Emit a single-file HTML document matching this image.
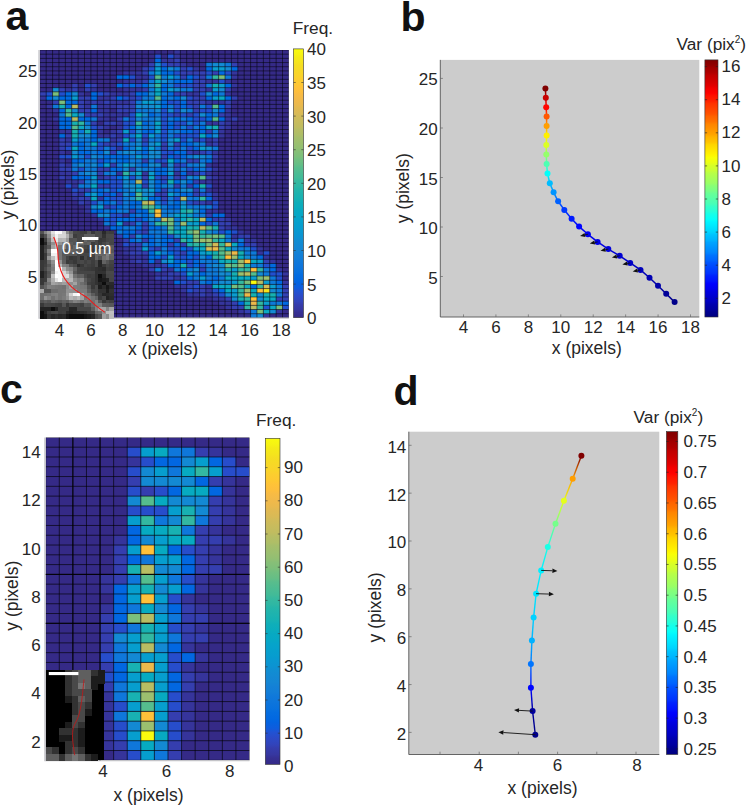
<!DOCTYPE html>
<html><head><meta charset="utf-8"><title>Figure</title>
<style>html,body{margin:0;padding:0;background:#fff;font-family:"Liberation Sans",sans-serif}svg{display:block}</style></head>
<body>
<svg width="746" height="806" viewBox="0 0 746 806" font-family="Liberation Sans, sans-serif">
<defs><filter id="blA" x="0" y="0" width="1" height="1"><feGaussianBlur stdDeviation="0.7"/></filter><filter id="blH" x="-0.02" y="-0.02" width="1.04" height="1.04"><feGaussianBlur stdDeviation="0.3"/></filter><filter id="blC" x="0" y="0" width="1" height="1"><feGaussianBlur stdDeviation="0.55"/></filter></defs><rect width="746" height="806" fill="#fff"/>
<clipPath id="ca"><rect x="39.8" y="50" width="249.1" height="267.9"/></clipPath>
<g clip-path="url(#ca)">
<g filter="url(#blH)">
<rect x="39.8" y="50" width="249.1" height="267.9" fill="#352a87"/>
<path d="M173.93 50h6.39v4.19h-6.39zM173.93 54.19h6.39v4.19h-6.39zM161.16 58.37h12.77v4.19h-12.77zM180.32 62.56h6.39v4.19h-6.39zM193.09 66.74h6.39v4.19h-6.39zM122.83 70.93h19.16v4.19h-19.16zM231.42 70.93h6.39v4.19h-6.39zM135.61 75.12h12.77v4.19h-12.77zM231.42 75.12h6.39v4.19h-6.39zM122.83 79.3h19.16v4.19h-19.16zM205.87 79.3h12.77v4.19h-12.77zM225.03 79.3h6.39v4.19h-6.39zM231.42 83.49h6.39v4.19h-6.39zM65.35 87.67h6.39v4.19h-6.39zM90.9 87.67h6.39v4.19h-6.39zM122.83 87.67h19.16v4.19h-19.16zM205.87 87.67h6.39v4.19h-6.39zM78.12 91.86h6.39v4.19h-6.39zM110.06 91.86h19.16v4.19h-19.16zM186.71 91.86h12.77v4.19h-12.77zM225.03 91.86h6.39v4.19h-6.39zM39.8 96.05h6.39v4.19h-6.39zM97.28 96.05h12.77v4.19h-12.77zM84.51 100.23h6.39v4.19h-6.39zM97.28 100.23h6.39v4.19h-6.39zM110.06 100.23h19.16v4.19h-19.16zM205.87 100.23h19.16v4.19h-19.16zM46.19 104.42h6.39v4.19h-6.39zM84.51 104.42h6.39v4.19h-6.39zM97.28 104.42h19.16v4.19h-19.16zM52.57 108.6h6.39v4.19h-6.39zM97.28 108.6h12.77v4.19h-12.77zM225.03 108.6h6.39v4.19h-6.39zM103.67 112.79h25.55v4.19h-25.55zM225.03 112.79h6.39v4.19h-6.39zM52.57 116.98h6.39v4.19h-6.39zM97.28 116.98h12.77v4.19h-12.77zM225.03 116.98h6.39v4.19h-6.39zM116.45 121.16h6.39v4.19h-6.39zM205.87 121.16h12.77v4.19h-12.77zM225.03 121.16h6.39v4.19h-6.39zM103.67 125.35h6.39v4.19h-6.39zM116.45 125.35h6.39v4.19h-6.39zM225.03 125.35h6.39v4.19h-6.39zM58.96 129.53h12.77v4.19h-12.77zM97.28 129.53h6.39v4.19h-6.39zM110.06 129.53h6.39v4.19h-6.39zM218.64 129.53h6.39v4.19h-6.39zM97.28 133.72h12.77v4.19h-12.77zM116.45 133.72h6.39v4.19h-6.39zM218.64 133.72h6.39v4.19h-6.39zM65.35 137.91h6.39v4.19h-6.39zM110.06 137.91h6.39v4.19h-6.39zM205.87 137.91h6.39v4.19h-6.39zM205.87 142.09h6.39v4.19h-6.39zM116.45 146.28h6.39v4.19h-6.39zM58.96 150.46h6.39v4.19h-6.39zM193.09 150.46h6.39v4.19h-6.39zM212.25 150.46h6.39v4.19h-6.39zM58.96 158.84h6.39v4.19h-6.39zM212.25 158.84h6.39v4.19h-6.39zM65.35 163.02h6.39v4.19h-6.39zM161.16 163.02h6.39v4.19h-6.39zM205.87 163.02h6.39v4.19h-6.39zM212.25 167.21h6.39v4.19h-6.39zM58.96 171.39h12.77v4.19h-12.77zM116.45 171.39h6.39v4.19h-6.39zM141.99 171.39h6.39v4.19h-6.39zM173.93 171.39h6.39v4.19h-6.39zM186.71 171.39h6.39v4.19h-6.39zM205.87 171.39h6.39v4.19h-6.39zM65.35 175.58h6.39v4.19h-6.39zM97.28 175.58h6.39v4.19h-6.39zM212.25 175.58h6.39v4.19h-6.39zM65.35 179.77h12.77v4.19h-12.77zM199.48 179.77h12.77v4.19h-12.77zM71.74 183.95h6.39v4.19h-6.39zM205.87 188.14h6.39v4.19h-6.39zM78.12 192.32h6.39v4.19h-6.39zM212.25 192.32h6.39v4.19h-6.39zM71.74 196.51h6.39v4.19h-6.39zM97.28 196.51h6.39v4.19h-6.39zM212.25 196.51h6.39v4.19h-6.39zM84.51 200.7h6.39v4.19h-6.39zM205.87 200.7h6.39v4.19h-6.39zM84.51 204.88h6.39v4.19h-6.39zM84.51 209.07h6.39v4.19h-6.39zM205.87 209.07h12.77v4.19h-12.77zM90.9 213.25h6.39v4.19h-6.39zM122.83 213.25h6.39v4.19h-6.39zM97.28 217.44h6.39v4.19h-6.39zM225.03 217.44h6.39v4.19h-6.39zM122.83 221.63h6.39v4.19h-6.39zM103.67 225.81h6.39v4.19h-6.39zM225.03 225.81h12.77v4.19h-12.77zM237.8 230h6.39v4.19h-6.39zM231.42 234.18h6.39v4.19h-6.39zM244.19 238.37h12.77v4.19h-12.77zM122.83 246.74h12.77v4.19h-12.77zM256.96 246.74h6.39v4.19h-6.39zM122.83 250.93h6.39v4.19h-6.39zM256.96 250.93h6.39v4.19h-6.39zM129.22 255.11h19.16v4.19h-19.16zM263.35 255.11h6.39v4.19h-6.39zM129.22 259.3h6.39v4.19h-6.39zM141.99 259.3h6.39v4.19h-6.39zM154.77 259.3h6.39v4.19h-6.39zM269.74 259.3h6.39v4.19h-6.39zM141.99 263.49h19.16v4.19h-19.16zM167.54 267.67h6.39v4.19h-6.39zM276.13 267.67h6.39v4.19h-6.39zM154.77 271.86h12.77v4.19h-12.77zM282.51 271.86h6.39v4.19h-6.39zM173.93 276.04h6.39v4.19h-6.39zM282.51 280.23h6.39v4.19h-6.39zM173.93 284.42h12.77v4.19h-12.77zM205.87 284.42h6.39v4.19h-6.39zM180.32 288.6h6.39v4.19h-6.39zM205.87 288.6h6.39v4.19h-6.39zM186.71 292.79h12.77v4.19h-12.77zM205.87 292.79h6.39v4.19h-6.39zM212.25 296.97h12.77v4.19h-12.77zM218.64 301.16h12.77v4.19h-12.77zM225.03 305.35h6.39v4.19h-6.39zM237.8 309.53h6.39v4.19h-6.39zM276.13 309.53h6.39v4.19h-6.39zM263.35 313.72h6.39v4.19h-6.39z" fill="#36359d"/>
<path d="M173.93 58.37h6.39v4.19h-6.39zM148.38 62.56h6.39v4.19h-6.39zM167.54 62.56h12.77v4.19h-12.77zM231.42 62.56h6.39v4.19h-6.39zM141.99 66.74h6.39v4.19h-6.39zM180.32 66.74h6.39v4.19h-6.39zM141.99 70.93h6.39v4.19h-6.39zM180.32 70.93h25.55v4.19h-25.55zM212.25 70.93h6.39v4.19h-6.39zM180.32 75.12h6.39v4.19h-6.39zM199.48 75.12h6.39v4.19h-6.39zM141.99 79.3h6.39v4.19h-6.39zM193.09 79.3h12.77v4.19h-12.77zM71.74 83.49h6.39v4.19h-6.39zM90.9 83.49h6.39v4.19h-6.39zM193.09 83.49h12.77v4.19h-12.77zM58.96 87.67h6.39v4.19h-6.39zM71.74 87.67h6.39v4.19h-6.39zM84.51 87.67h6.39v4.19h-6.39zM141.99 87.67h6.39v4.19h-6.39zM193.09 87.67h12.77v4.19h-12.77zM225.03 87.67h6.39v4.19h-6.39zM39.8 91.86h6.39v4.19h-6.39zM103.67 91.86h6.39v4.19h-6.39zM129.22 91.86h6.39v4.19h-6.39zM173.93 91.86h12.77v4.19h-12.77zM78.12 96.05h12.77v4.19h-12.77zM110.06 96.05h6.39v4.19h-6.39zM129.22 96.05h6.39v4.19h-6.39zM193.09 96.05h12.77v4.19h-12.77zM231.42 96.05h6.39v4.19h-6.39zM52.57 100.23h6.39v4.19h-6.39zM78.12 100.23h6.39v4.19h-6.39zM90.9 100.23h6.39v4.19h-6.39zM103.67 100.23h6.39v4.19h-6.39zM129.22 100.23h6.39v4.19h-6.39zM186.71 100.23h19.16v4.19h-19.16zM225.03 100.23h6.39v4.19h-6.39zM78.12 104.42h6.39v4.19h-6.39zM116.45 104.42h19.16v4.19h-19.16zM193.09 104.42h6.39v4.19h-6.39zM225.03 104.42h6.39v4.19h-6.39zM78.12 108.6h12.77v4.19h-12.77zM116.45 108.6h19.16v4.19h-19.16zM193.09 108.6h6.39v4.19h-6.39zM84.51 112.79h19.16v4.19h-19.16zM173.93 112.79h6.39v4.19h-6.39zM186.71 112.79h6.39v4.19h-6.39zM218.64 112.79h6.39v4.19h-6.39zM116.45 116.98h6.39v4.19h-6.39zM231.42 116.98h6.39v4.19h-6.39zM90.9 121.16h6.39v4.19h-6.39zM103.67 121.16h12.77v4.19h-12.77zM218.64 121.16h6.39v4.19h-6.39zM97.28 125.35h6.39v4.19h-6.39zM218.64 125.35h6.39v4.19h-6.39zM116.45 129.53h6.39v4.19h-6.39zM205.87 129.53h6.39v4.19h-6.39zM65.35 133.72h6.39v4.19h-6.39zM110.06 133.72h6.39v4.19h-6.39zM58.96 137.91h6.39v4.19h-6.39zM116.45 137.91h6.39v4.19h-6.39zM141.99 137.91h6.39v4.19h-6.39zM193.09 137.91h6.39v4.19h-6.39zM212.25 137.91h6.39v4.19h-6.39zM58.96 142.09h12.77v4.19h-12.77zM103.67 142.09h12.77v4.19h-12.77zM161.16 142.09h6.39v4.19h-6.39zM173.93 142.09h6.39v4.19h-6.39zM212.25 142.09h6.39v4.19h-6.39zM58.96 146.28h6.39v4.19h-6.39zM161.16 146.28h6.39v4.19h-6.39zM110.06 150.46h6.39v4.19h-6.39zM186.71 150.46h6.39v4.19h-6.39zM199.48 150.46h6.39v4.19h-6.39zM161.16 154.65h6.39v4.19h-6.39zM212.25 154.65h6.39v4.19h-6.39zM141.99 158.84h6.39v4.19h-6.39zM186.71 158.84h12.77v4.19h-12.77zM58.96 163.02h6.39v4.19h-6.39zM110.06 163.02h6.39v4.19h-6.39zM173.93 163.02h6.39v4.19h-6.39zM58.96 167.21h12.77v4.19h-12.77zM97.28 167.21h12.77v4.19h-12.77zM129.22 167.21h6.39v4.19h-6.39zM71.74 171.39h6.39v4.19h-6.39zM97.28 171.39h6.39v4.19h-6.39zM193.09 171.39h6.39v4.19h-6.39zM58.96 175.58h6.39v4.19h-6.39zM103.67 175.58h6.39v4.19h-6.39zM141.99 175.58h6.39v4.19h-6.39zM161.16 175.58h6.39v4.19h-6.39zM173.93 175.58h6.39v4.19h-6.39zM205.87 175.58h6.39v4.19h-6.39zM78.12 179.77h6.39v4.19h-6.39zM193.09 179.77h6.39v4.19h-6.39zM97.28 183.95h12.77v4.19h-12.77zM141.99 183.95h6.39v4.19h-6.39zM173.93 183.95h6.39v4.19h-6.39zM186.71 183.95h6.39v4.19h-6.39zM78.12 188.14h12.77v4.19h-12.77zM161.16 188.14h6.39v4.19h-6.39zM193.09 188.14h6.39v4.19h-6.39zM71.74 192.32h6.39v4.19h-6.39zM116.45 192.32h6.39v4.19h-6.39zM154.77 192.32h12.77v4.19h-12.77zM193.09 192.32h6.39v4.19h-6.39zM78.12 196.51h12.77v4.19h-12.77zM161.16 196.51h6.39v4.19h-6.39zM78.12 200.7h6.39v4.19h-6.39zM193.09 200.7h12.77v4.19h-12.77zM103.67 204.88h6.39v4.19h-6.39zM129.22 209.07h6.39v4.19h-6.39zM205.87 213.25h6.39v4.19h-6.39zM212.25 217.44h12.77v4.19h-12.77zM129.22 221.63h6.39v4.19h-6.39zM141.99 221.63h6.39v4.19h-6.39zM218.64 221.63h12.77v4.19h-12.77zM141.99 225.81h6.39v4.19h-6.39zM218.64 225.81h6.39v4.19h-6.39zM141.99 230h6.39v4.19h-6.39zM116.45 234.18h6.39v4.19h-6.39zM129.22 234.18h6.39v4.19h-6.39zM237.8 234.18h12.77v4.19h-12.77zM122.83 238.37h6.39v4.19h-6.39zM141.99 238.37h6.39v4.19h-6.39zM173.93 238.37h6.39v4.19h-6.39zM231.42 238.37h6.39v4.19h-6.39zM129.22 242.56h12.77v4.19h-12.77zM167.54 242.56h6.39v4.19h-6.39zM180.32 242.56h6.39v4.19h-6.39zM244.19 242.56h12.77v4.19h-12.77zM135.61 246.74h6.39v4.19h-6.39zM154.77 246.74h6.39v4.19h-6.39zM129.22 250.93h19.16v4.19h-19.16zM180.32 250.93h6.39v4.19h-6.39zM135.61 259.3h6.39v4.19h-6.39zM263.35 259.3h6.39v4.19h-6.39zM161.16 263.49h6.39v4.19h-6.39zM148.38 267.67h6.39v4.19h-6.39zM161.16 267.67h6.39v4.19h-6.39zM199.48 267.67h6.39v4.19h-6.39zM167.54 271.86h12.77v4.19h-12.77zM154.77 276.04h19.16v4.19h-19.16zM180.32 276.04h6.39v4.19h-6.39zM186.71 280.23h12.77v4.19h-12.77zM186.71 284.42h6.39v4.19h-6.39zM199.48 284.42h6.39v4.19h-6.39zM282.51 284.42h6.39v4.19h-6.39zM193.09 288.6h12.77v4.19h-12.77zM282.51 288.6h6.39v4.19h-6.39zM199.48 292.79h6.39v4.19h-6.39zM212.25 292.79h6.39v4.19h-6.39zM282.51 292.79h6.39v4.19h-6.39zM225.03 296.97h6.39v4.19h-6.39zM276.13 296.97h12.77v4.19h-12.77zM231.42 301.16h6.39v4.19h-6.39zM231.42 305.35h12.77v4.19h-12.77zM244.19 309.53h6.39v4.19h-6.39z" fill="#3440b3"/>
<path d="M154.77 54.19h6.39v4.19h-6.39zM167.54 54.19h6.39v4.19h-6.39zM161.16 62.56h6.39v4.19h-6.39zM148.38 66.74h6.39v4.19h-6.39zM186.71 66.74h6.39v4.19h-6.39zM173.93 70.93h6.39v4.19h-6.39zM205.87 70.93h6.39v4.19h-6.39zM225.03 70.93h6.39v4.19h-6.39zM129.22 75.12h6.39v4.19h-6.39zM148.38 75.12h6.39v4.19h-6.39zM193.09 75.12h6.39v4.19h-6.39zM218.64 79.3h6.39v4.19h-6.39zM84.51 83.49h6.39v4.19h-6.39zM122.83 83.49h6.39v4.19h-6.39zM135.61 83.49h6.39v4.19h-6.39zM173.93 83.49h19.16v4.19h-19.16zM46.19 91.86h6.39v4.19h-6.39zM58.96 91.86h6.39v4.19h-6.39zM97.28 91.86h6.39v4.19h-6.39zM199.48 91.86h6.39v4.19h-6.39zM122.83 96.05h6.39v4.19h-6.39zM135.61 96.05h6.39v4.19h-6.39zM186.71 96.05h6.39v4.19h-6.39zM167.54 100.23h12.77v4.19h-12.77zM173.93 104.42h6.39v4.19h-6.39zM186.71 104.42h6.39v4.19h-6.39zM205.87 104.42h6.39v4.19h-6.39zM161.16 108.6h6.39v4.19h-6.39zM173.93 108.6h6.39v4.19h-6.39zM199.48 108.6h12.77v4.19h-12.77zM129.22 112.79h6.39v4.19h-6.39zM161.16 112.79h12.77v4.19h-12.77zM180.32 112.79h6.39v4.19h-6.39zM193.09 112.79h6.39v4.19h-6.39zM129.22 116.98h6.39v4.19h-6.39zM161.16 116.98h6.39v4.19h-6.39zM193.09 116.98h12.77v4.19h-12.77zM122.83 121.16h12.77v4.19h-12.77zM161.16 121.16h6.39v4.19h-6.39zM173.93 121.16h12.77v4.19h-12.77zM193.09 121.16h6.39v4.19h-6.39zM90.9 125.35h6.39v4.19h-6.39zM122.83 125.35h6.39v4.19h-6.39zM161.16 125.35h6.39v4.19h-6.39zM173.93 125.35h6.39v4.19h-6.39zM186.71 125.35h6.39v4.19h-6.39zM129.22 129.53h6.39v4.19h-6.39zM161.16 129.53h6.39v4.19h-6.39zM193.09 129.53h6.39v4.19h-6.39zM122.83 133.72h6.39v4.19h-6.39zM141.99 133.72h6.39v4.19h-6.39zM161.16 133.72h6.39v4.19h-6.39zM173.93 133.72h25.55v4.19h-25.55zM129.22 137.91h6.39v4.19h-6.39zM161.16 137.91h6.39v4.19h-6.39zM180.32 137.91h6.39v4.19h-6.39zM199.48 137.91h6.39v4.19h-6.39zM97.28 142.09h6.39v4.19h-6.39zM116.45 142.09h6.39v4.19h-6.39zM141.99 142.09h6.39v4.19h-6.39zM65.35 146.28h6.39v4.19h-6.39zM97.28 146.28h6.39v4.19h-6.39zM110.06 146.28h6.39v4.19h-6.39zM173.93 146.28h6.39v4.19h-6.39zM186.71 146.28h6.39v4.19h-6.39zM161.16 150.46h12.77v4.19h-12.77zM205.87 150.46h6.39v4.19h-6.39zM58.96 154.65h12.77v4.19h-12.77zM84.51 154.65h6.39v4.19h-6.39zM173.93 154.65h6.39v4.19h-6.39zM97.28 158.84h6.39v4.19h-6.39zM154.77 158.84h12.77v4.19h-12.77zM180.32 163.02h6.39v4.19h-6.39zM78.12 167.21h6.39v4.19h-6.39zM173.93 167.21h6.39v4.19h-6.39zM186.71 167.21h6.39v4.19h-6.39zM205.87 167.21h6.39v4.19h-6.39zM199.48 171.39h6.39v4.19h-6.39zM110.06 175.58h6.39v4.19h-6.39zM129.22 175.58h6.39v4.19h-6.39zM154.77 175.58h6.39v4.19h-6.39zM180.32 175.58h6.39v4.19h-6.39zM110.06 179.77h12.77v4.19h-12.77zM141.99 179.77h6.39v4.19h-6.39zM161.16 179.77h6.39v4.19h-6.39zM65.35 183.95h6.39v4.19h-6.39zM110.06 183.95h12.77v4.19h-12.77zM205.87 183.95h6.39v4.19h-6.39zM71.74 188.14h6.39v4.19h-6.39zM110.06 188.14h6.39v4.19h-6.39zM103.67 192.32h6.39v4.19h-6.39zM199.48 192.32h12.77v4.19h-12.77zM110.06 196.51h12.77v4.19h-12.77zM173.93 196.51h6.39v4.19h-6.39zM90.9 200.7h6.39v4.19h-6.39zM116.45 200.7h6.39v4.19h-6.39zM161.16 200.7h6.39v4.19h-6.39zM186.71 200.7h6.39v4.19h-6.39zM212.25 200.7h6.39v4.19h-6.39zM110.06 204.88h6.39v4.19h-6.39zM212.25 204.88h6.39v4.19h-6.39zM110.06 213.25h12.77v4.19h-12.77zM110.06 217.44h6.39v4.19h-6.39zM135.61 217.44h6.39v4.19h-6.39zM110.06 221.63h6.39v4.19h-6.39zM205.87 221.63h6.39v4.19h-6.39zM135.61 230h6.39v4.19h-6.39zM218.64 230h6.39v4.19h-6.39zM231.42 230h6.39v4.19h-6.39zM167.54 234.18h6.39v4.19h-6.39zM122.83 242.56h6.39v4.19h-6.39zM148.38 246.74h6.39v4.19h-6.39zM167.54 246.74h12.77v4.19h-12.77zM186.71 246.74h6.39v4.19h-6.39zM250.58 246.74h6.39v4.19h-6.39zM173.93 250.93h6.39v4.19h-6.39zM263.35 250.93h6.39v4.19h-6.39zM161.16 255.11h6.39v4.19h-6.39zM173.93 255.11h12.77v4.19h-12.77zM193.09 255.11h6.39v4.19h-6.39zM186.71 259.3h6.39v4.19h-6.39zM186.71 263.49h6.39v4.19h-6.39zM199.48 263.49h6.39v4.19h-6.39zM263.35 263.49h6.39v4.19h-6.39zM180.32 271.86h6.39v4.19h-6.39zM269.74 271.86h12.77v4.19h-12.77zM276.13 276.04h6.39v4.19h-6.39zM180.32 280.23h6.39v4.19h-6.39zM193.09 284.42h6.39v4.19h-6.39zM186.71 288.6h6.39v4.19h-6.39zM212.25 288.6h6.39v4.19h-6.39zM218.64 292.79h6.39v4.19h-6.39zM263.35 305.35h6.39v4.19h-6.39zM282.51 305.35h6.39v4.19h-6.39z" fill="#2450cf"/>
<path d="M154.77 58.37h6.39v4.19h-6.39zM161.16 66.74h6.39v4.19h-6.39zM205.87 66.74h6.39v4.19h-6.39zM231.42 66.74h6.39v4.19h-6.39zM161.16 70.93h12.77v4.19h-12.77zM218.64 70.93h6.39v4.19h-6.39zM116.45 75.12h12.77v4.19h-12.77zM186.71 75.12h6.39v4.19h-6.39zM173.93 79.3h19.16v4.19h-19.16zM116.45 83.49h6.39v4.19h-6.39zM129.22 83.49h6.39v4.19h-6.39zM141.99 83.49h6.39v4.19h-6.39zM161.16 83.49h6.39v4.19h-6.39zM225.03 83.49h6.39v4.19h-6.39zM161.16 87.67h6.39v4.19h-6.39zM65.35 91.86h6.39v4.19h-6.39zM90.9 91.86h6.39v4.19h-6.39zM135.61 91.86h12.77v4.19h-12.77zM167.54 91.86h6.39v4.19h-6.39zM212.25 91.86h6.39v4.19h-6.39zM46.19 96.05h6.39v4.19h-6.39zM58.96 96.05h12.77v4.19h-12.77zM90.9 96.05h6.39v4.19h-6.39zM116.45 96.05h6.39v4.19h-6.39zM161.16 96.05h6.39v4.19h-6.39zM173.93 96.05h6.39v4.19h-6.39zM205.87 96.05h6.39v4.19h-6.39zM225.03 96.05h6.39v4.19h-6.39zM65.35 100.23h12.77v4.19h-12.77zM161.16 100.23h6.39v4.19h-6.39zM180.32 100.23h6.39v4.19h-6.39zM65.35 104.42h6.39v4.19h-6.39zM161.16 104.42h6.39v4.19h-6.39zM180.32 104.42h6.39v4.19h-6.39zM218.64 104.42h6.39v4.19h-6.39zM58.96 108.6h6.39v4.19h-6.39zM90.9 108.6h6.39v4.19h-6.39zM218.64 108.6h6.39v4.19h-6.39zM148.38 112.79h6.39v4.19h-6.39zM205.87 112.79h6.39v4.19h-6.39zM58.96 116.98h12.77v4.19h-12.77zM78.12 116.98h12.77v4.19h-12.77zM173.93 116.98h6.39v4.19h-6.39zM186.71 116.98h6.39v4.19h-6.39zM205.87 116.98h6.39v4.19h-6.39zM218.64 116.98h6.39v4.19h-6.39zM58.96 121.16h12.77v4.19h-12.77zM141.99 121.16h6.39v4.19h-6.39zM167.54 121.16h6.39v4.19h-6.39zM58.96 125.35h12.77v4.19h-12.77zM129.22 125.35h6.39v4.19h-6.39zM167.54 125.35h6.39v4.19h-6.39zM199.48 125.35h6.39v4.19h-6.39zM90.9 129.53h6.39v4.19h-6.39zM141.99 129.53h12.77v4.19h-12.77zM180.32 129.53h12.77v4.19h-12.77zM199.48 129.53h6.39v4.19h-6.39zM58.96 133.72h6.39v4.19h-6.39zM90.9 133.72h6.39v4.19h-6.39zM205.87 133.72h6.39v4.19h-6.39zM90.9 137.91h6.39v4.19h-6.39zM78.12 142.09h6.39v4.19h-6.39zM180.32 142.09h12.77v4.19h-12.77zM78.12 146.28h6.39v4.19h-6.39zM122.83 146.28h6.39v4.19h-6.39zM141.99 146.28h6.39v4.19h-6.39zM193.09 146.28h6.39v4.19h-6.39zM78.12 150.46h12.77v4.19h-12.77zM97.28 150.46h6.39v4.19h-6.39zM141.99 150.46h6.39v4.19h-6.39zM173.93 150.46h12.77v4.19h-12.77zM103.67 154.65h25.55v4.19h-25.55zM167.54 154.65h6.39v4.19h-6.39zM180.32 154.65h6.39v4.19h-6.39zM71.74 158.84h12.77v4.19h-12.77zM103.67 158.84h6.39v4.19h-6.39zM116.45 158.84h12.77v4.19h-12.77zM173.93 158.84h6.39v4.19h-6.39zM205.87 158.84h6.39v4.19h-6.39zM97.28 163.02h6.39v4.19h-6.39zM141.99 163.02h6.39v4.19h-6.39zM110.06 167.21h12.77v4.19h-12.77zM154.77 167.21h12.77v4.19h-12.77zM193.09 167.21h6.39v4.19h-6.39zM154.77 171.39h12.77v4.19h-12.77zM180.32 171.39h6.39v4.19h-6.39zM71.74 175.58h19.16v4.19h-19.16zM116.45 175.58h6.39v4.19h-6.39zM97.28 179.77h12.77v4.19h-12.77zM154.77 179.77h6.39v4.19h-6.39zM173.93 179.77h6.39v4.19h-6.39zM186.71 179.77h6.39v4.19h-6.39zM154.77 183.95h6.39v4.19h-6.39zM193.09 183.95h6.39v4.19h-6.39zM97.28 188.14h6.39v4.19h-6.39zM116.45 188.14h6.39v4.19h-6.39zM154.77 188.14h6.39v4.19h-6.39zM173.93 188.14h6.39v4.19h-6.39zM97.28 192.32h6.39v4.19h-6.39zM110.06 192.32h6.39v4.19h-6.39zM129.22 192.32h6.39v4.19h-6.39zM180.32 192.32h12.77v4.19h-12.77zM103.67 196.51h6.39v4.19h-6.39zM148.38 196.51h12.77v4.19h-12.77zM205.87 196.51h6.39v4.19h-6.39zM103.67 200.7h6.39v4.19h-6.39zM129.22 200.7h12.77v4.19h-12.77zM173.93 200.7h6.39v4.19h-6.39zM116.45 204.88h6.39v4.19h-6.39zM129.22 204.88h6.39v4.19h-6.39zM167.54 204.88h12.77v4.19h-12.77zM90.9 209.07h12.77v4.19h-12.77zM110.06 209.07h6.39v4.19h-6.39zM135.61 209.07h12.77v4.19h-12.77zM199.48 209.07h6.39v4.19h-6.39zM129.22 213.25h6.39v4.19h-6.39zM141.99 213.25h6.39v4.19h-6.39zM212.25 213.25h12.77v4.19h-12.77zM103.67 217.44h6.39v4.19h-6.39zM116.45 217.44h19.16v4.19h-19.16zM141.99 217.44h6.39v4.19h-6.39zM205.87 217.44h6.39v4.19h-6.39zM199.48 221.63h6.39v4.19h-6.39zM110.06 225.81h12.77v4.19h-12.77zM135.61 225.81h6.39v4.19h-6.39zM148.38 225.81h12.77v4.19h-12.77zM122.83 230h12.77v4.19h-12.77zM225.03 230h6.39v4.19h-6.39zM122.83 234.18h6.39v4.19h-6.39zM141.99 234.18h12.77v4.19h-12.77zM161.16 234.18h6.39v4.19h-6.39zM129.22 238.37h6.39v4.19h-6.39zM148.38 238.37h6.39v4.19h-6.39zM161.16 238.37h12.77v4.19h-12.77zM148.38 242.56h6.39v4.19h-6.39zM161.16 242.56h6.39v4.19h-6.39zM173.93 242.56h6.39v4.19h-6.39zM237.8 242.56h6.39v4.19h-6.39zM180.32 246.74h6.39v4.19h-6.39zM148.38 250.93h6.39v4.19h-6.39zM167.54 250.93h6.39v4.19h-6.39zM186.71 250.93h12.77v4.19h-12.77zM148.38 255.11h12.77v4.19h-12.77zM186.71 255.11h6.39v4.19h-6.39zM205.87 255.11h6.39v4.19h-6.39zM256.96 255.11h6.39v4.19h-6.39zM148.38 259.3h6.39v4.19h-6.39zM173.93 259.3h12.77v4.19h-12.77zM193.09 259.3h6.39v4.19h-6.39zM167.54 263.49h12.77v4.19h-12.77zM193.09 263.49h6.39v4.19h-6.39zM269.74 263.49h6.39v4.19h-6.39zM180.32 267.67h6.39v4.19h-6.39zM269.74 267.67h6.39v4.19h-6.39zM199.48 271.86h6.39v4.19h-6.39zM186.71 276.04h6.39v4.19h-6.39zM212.25 276.04h6.39v4.19h-6.39zM173.93 280.23h6.39v4.19h-6.39zM205.87 280.23h6.39v4.19h-6.39zM276.13 280.23h6.39v4.19h-6.39zM250.58 284.42h6.39v4.19h-6.39zM218.64 288.6h6.39v4.19h-6.39zM237.8 301.16h6.39v4.19h-6.39zM282.51 301.16h6.39v4.19h-6.39z" fill="#036ae1"/>
<path d="M205.87 62.56h6.39v4.19h-6.39zM225.03 62.56h6.39v4.19h-6.39zM173.93 66.74h6.39v4.19h-6.39zM148.38 70.93h6.39v4.19h-6.39zM161.16 75.12h6.39v4.19h-6.39zM173.93 75.12h6.39v4.19h-6.39zM205.87 75.12h6.39v4.19h-6.39zM225.03 75.12h6.39v4.19h-6.39zM148.38 79.3h6.39v4.19h-6.39zM167.54 79.3h6.39v4.19h-6.39zM167.54 83.49h6.39v4.19h-6.39zM205.87 83.49h6.39v4.19h-6.39zM148.38 87.67h6.39v4.19h-6.39zM180.32 87.67h12.77v4.19h-12.77zM161.16 91.86h6.39v4.19h-6.39zM218.64 91.86h6.39v4.19h-6.39zM141.99 96.05h12.77v4.19h-12.77zM167.54 96.05h6.39v4.19h-6.39zM135.61 100.23h6.39v4.19h-6.39zM52.57 104.42h6.39v4.19h-6.39zM90.9 104.42h6.39v4.19h-6.39zM167.54 104.42h6.39v4.19h-6.39zM199.48 104.42h6.39v4.19h-6.39zM135.61 108.6h19.16v4.19h-19.16zM186.71 108.6h6.39v4.19h-6.39zM58.96 112.79h6.39v4.19h-6.39zM154.77 112.79h6.39v4.19h-6.39zM212.25 112.79h6.39v4.19h-6.39zM90.9 116.98h6.39v4.19h-6.39zM122.83 116.98h6.39v4.19h-6.39zM141.99 116.98h12.77v4.19h-12.77zM167.54 116.98h6.39v4.19h-6.39zM180.32 116.98h6.39v4.19h-6.39zM84.51 121.16h6.39v4.19h-6.39zM148.38 121.16h6.39v4.19h-6.39zM186.71 121.16h6.39v4.19h-6.39zM199.48 121.16h6.39v4.19h-6.39zM141.99 125.35h12.77v4.19h-12.77zM180.32 125.35h6.39v4.19h-6.39zM193.09 125.35h6.39v4.19h-6.39zM78.12 129.53h6.39v4.19h-6.39zM167.54 129.53h12.77v4.19h-12.77zM212.25 129.53h6.39v4.19h-6.39zM129.22 133.72h6.39v4.19h-6.39zM154.77 133.72h6.39v4.19h-6.39zM167.54 133.72h6.39v4.19h-6.39zM78.12 137.91h12.77v4.19h-12.77zM97.28 137.91h12.77v4.19h-12.77zM148.38 137.91h12.77v4.19h-12.77zM186.71 137.91h6.39v4.19h-6.39zM71.74 142.09h6.39v4.19h-6.39zM84.51 142.09h6.39v4.19h-6.39zM122.83 142.09h12.77v4.19h-12.77zM193.09 142.09h12.77v4.19h-12.77zM84.51 146.28h12.77v4.19h-12.77zM103.67 146.28h6.39v4.19h-6.39zM129.22 146.28h6.39v4.19h-6.39zM154.77 146.28h6.39v4.19h-6.39zM167.54 146.28h6.39v4.19h-6.39zM180.32 146.28h6.39v4.19h-6.39zM212.25 146.28h6.39v4.19h-6.39zM90.9 150.46h6.39v4.19h-6.39zM116.45 150.46h6.39v4.19h-6.39zM135.61 150.46h6.39v4.19h-6.39zM78.12 154.65h6.39v4.19h-6.39zM97.28 154.65h6.39v4.19h-6.39zM129.22 154.65h6.39v4.19h-6.39zM141.99 154.65h6.39v4.19h-6.39zM186.71 154.65h6.39v4.19h-6.39zM205.87 154.65h6.39v4.19h-6.39zM84.51 158.84h12.77v4.19h-12.77zM110.06 158.84h6.39v4.19h-6.39zM129.22 158.84h12.77v4.19h-12.77zM148.38 158.84h6.39v4.19h-6.39zM180.32 158.84h6.39v4.19h-6.39zM199.48 158.84h6.39v4.19h-6.39zM71.74 163.02h6.39v4.19h-6.39zM84.51 163.02h6.39v4.19h-6.39zM116.45 163.02h6.39v4.19h-6.39zM135.61 163.02h6.39v4.19h-6.39zM186.71 163.02h12.77v4.19h-12.77zM71.74 167.21h6.39v4.19h-6.39zM84.51 167.21h12.77v4.19h-12.77zM141.99 167.21h12.77v4.19h-12.77zM180.32 167.21h6.39v4.19h-6.39zM199.48 167.21h6.39v4.19h-6.39zM78.12 171.39h6.39v4.19h-6.39zM103.67 171.39h12.77v4.19h-12.77zM167.54 175.58h6.39v4.19h-6.39zM193.09 175.58h6.39v4.19h-6.39zM84.51 179.77h6.39v4.19h-6.39zM129.22 179.77h6.39v4.19h-6.39zM78.12 183.95h12.77v4.19h-12.77zM161.16 183.95h6.39v4.19h-6.39zM180.32 183.95h6.39v4.19h-6.39zM90.9 188.14h6.39v4.19h-6.39zM103.67 188.14h6.39v4.19h-6.39zM122.83 188.14h6.39v4.19h-6.39zM167.54 188.14h6.39v4.19h-6.39zM199.48 188.14h6.39v4.19h-6.39zM84.51 192.32h6.39v4.19h-6.39zM173.93 192.32h6.39v4.19h-6.39zM122.83 196.51h6.39v4.19h-6.39zM167.54 196.51h6.39v4.19h-6.39zM186.71 196.51h12.77v4.19h-12.77zM97.28 200.7h6.39v4.19h-6.39zM110.06 200.7h6.39v4.19h-6.39zM122.83 200.7h6.39v4.19h-6.39zM154.77 200.7h6.39v4.19h-6.39zM167.54 200.7h6.39v4.19h-6.39zM122.83 204.88h6.39v4.19h-6.39zM135.61 204.88h6.39v4.19h-6.39zM161.16 204.88h6.39v4.19h-6.39zM186.71 204.88h25.55v4.19h-25.55zM103.67 209.07h6.39v4.19h-6.39zM116.45 209.07h12.77v4.19h-12.77zM161.16 209.07h19.16v4.19h-19.16zM135.61 213.25h6.39v4.19h-6.39zM161.16 213.25h6.39v4.19h-6.39zM193.09 213.25h12.77v4.19h-12.77zM154.77 217.44h6.39v4.19h-6.39zM173.93 217.44h6.39v4.19h-6.39zM103.67 221.63h6.39v4.19h-6.39zM135.61 221.63h6.39v4.19h-6.39zM148.38 221.63h6.39v4.19h-6.39zM212.25 221.63h6.39v4.19h-6.39zM122.83 225.81h12.77v4.19h-12.77zM161.16 225.81h6.39v4.19h-6.39zM116.45 230h6.39v4.19h-6.39zM148.38 230h19.16v4.19h-19.16zM212.25 230h6.39v4.19h-6.39zM154.77 234.18h6.39v4.19h-6.39zM225.03 234.18h6.39v4.19h-6.39zM135.61 238.37h6.39v4.19h-6.39zM154.77 238.37h6.39v4.19h-6.39zM225.03 238.37h6.39v4.19h-6.39zM237.8 238.37h6.39v4.19h-6.39zM141.99 242.56h6.39v4.19h-6.39zM154.77 242.56h6.39v4.19h-6.39zM161.16 246.74h6.39v4.19h-6.39zM237.8 246.74h12.77v4.19h-12.77zM161.16 250.93h6.39v4.19h-6.39zM244.19 250.93h12.77v4.19h-12.77zM250.58 255.11h6.39v4.19h-6.39zM199.48 259.3h19.16v4.19h-19.16zM205.87 263.49h6.39v4.19h-6.39zM250.58 263.49h12.77v4.19h-12.77zM154.77 267.67h6.39v4.19h-6.39zM173.93 267.67h6.39v4.19h-6.39zM186.71 267.67h6.39v4.19h-6.39zM205.87 267.67h12.77v4.19h-12.77zM263.35 267.67h6.39v4.19h-6.39zM193.09 271.86h6.39v4.19h-6.39zM205.87 271.86h12.77v4.19h-12.77zM263.35 271.86h6.39v4.19h-6.39zM193.09 276.04h6.39v4.19h-6.39zM205.87 276.04h6.39v4.19h-6.39zM218.64 276.04h6.39v4.19h-6.39zM269.74 276.04h6.39v4.19h-6.39zM199.48 280.23h6.39v4.19h-6.39zM212.25 280.23h6.39v4.19h-6.39zM269.74 280.23h6.39v4.19h-6.39zM276.13 284.42h6.39v4.19h-6.39zM276.13 288.6h6.39v4.19h-6.39zM276.13 292.79h6.39v4.19h-6.39zM269.74 301.16h12.77v4.19h-12.77zM250.58 309.53h6.39v4.19h-6.39zM250.58 313.72h6.39v4.19h-6.39z" fill="#117ada"/>
<path d="M154.77 62.56h6.39v4.19h-6.39zM212.25 62.56h12.77v4.19h-12.77zM167.54 66.74h6.39v4.19h-6.39zM225.03 66.74h6.39v4.19h-6.39zM161.16 79.3h6.39v4.19h-6.39zM148.38 83.49h6.39v4.19h-6.39zM52.57 87.67h6.39v4.19h-6.39zM173.93 87.67h6.39v4.19h-6.39zM218.64 87.67h6.39v4.19h-6.39zM71.74 91.86h6.39v4.19h-6.39zM148.38 91.86h6.39v4.19h-6.39zM205.87 91.86h6.39v4.19h-6.39zM52.57 96.05h6.39v4.19h-6.39zM180.32 96.05h6.39v4.19h-6.39zM154.77 100.23h6.39v4.19h-6.39zM135.61 104.42h19.16v4.19h-19.16zM71.74 108.6h6.39v4.19h-6.39zM154.77 108.6h6.39v4.19h-6.39zM167.54 108.6h6.39v4.19h-6.39zM180.32 108.6h6.39v4.19h-6.39zM212.25 108.6h6.39v4.19h-6.39zM78.12 112.79h6.39v4.19h-6.39zM141.99 112.79h6.39v4.19h-6.39zM199.48 112.79h6.39v4.19h-6.39zM135.61 116.98h6.39v4.19h-6.39zM154.77 116.98h6.39v4.19h-6.39zM84.51 125.35h6.39v4.19h-6.39zM135.61 129.53h6.39v4.19h-6.39zM78.12 133.72h12.77v4.19h-12.77zM212.25 133.72h6.39v4.19h-6.39zM135.61 137.91h6.39v4.19h-6.39zM167.54 137.91h6.39v4.19h-6.39zM135.61 142.09h6.39v4.19h-6.39zM148.38 142.09h6.39v4.19h-6.39zM167.54 142.09h6.39v4.19h-6.39zM205.87 146.28h6.39v4.19h-6.39zM71.74 150.46h6.39v4.19h-6.39zM103.67 150.46h6.39v4.19h-6.39zM122.83 150.46h12.77v4.19h-12.77zM148.38 150.46h12.77v4.19h-12.77zM90.9 154.65h6.39v4.19h-6.39zM148.38 154.65h12.77v4.19h-12.77zM193.09 154.65h12.77v4.19h-12.77zM78.12 163.02h6.39v4.19h-6.39zM90.9 163.02h6.39v4.19h-6.39zM129.22 163.02h6.39v4.19h-6.39zM148.38 163.02h12.77v4.19h-12.77zM167.54 163.02h6.39v4.19h-6.39zM199.48 163.02h6.39v4.19h-6.39zM122.83 167.21h6.39v4.19h-6.39zM135.61 167.21h6.39v4.19h-6.39zM167.54 167.21h6.39v4.19h-6.39zM84.51 171.39h12.77v4.19h-12.77zM129.22 171.39h6.39v4.19h-6.39zM135.61 175.58h6.39v4.19h-6.39zM186.71 175.58h6.39v4.19h-6.39zM90.9 179.77h6.39v4.19h-6.39zM122.83 179.77h6.39v4.19h-6.39zM148.38 179.77h6.39v4.19h-6.39zM180.32 179.77h6.39v4.19h-6.39zM122.83 183.95h12.77v4.19h-12.77zM148.38 183.95h6.39v4.19h-6.39zM167.54 183.95h6.39v4.19h-6.39zM129.22 188.14h6.39v4.19h-6.39zM141.99 188.14h6.39v4.19h-6.39zM180.32 188.14h12.77v4.19h-12.77zM122.83 192.32h6.39v4.19h-6.39zM141.99 192.32h12.77v4.19h-12.77zM129.22 196.51h6.39v4.19h-6.39zM180.32 200.7h6.39v4.19h-6.39zM90.9 204.88h6.39v4.19h-6.39zM193.09 209.07h6.39v4.19h-6.39zM97.28 213.25h12.77v4.19h-12.77zM148.38 213.25h6.39v4.19h-6.39zM167.54 213.25h6.39v4.19h-6.39zM148.38 217.44h6.39v4.19h-6.39zM173.93 221.63h6.39v4.19h-6.39zM173.93 225.81h6.39v4.19h-6.39zM205.87 230h6.39v4.19h-6.39zM135.61 234.18h6.39v4.19h-6.39zM173.93 234.18h6.39v4.19h-6.39zM231.42 246.74h6.39v4.19h-6.39zM199.48 255.11h6.39v4.19h-6.39zM244.19 255.11h6.39v4.19h-6.39zM161.16 259.3h6.39v4.19h-6.39zM212.25 263.49h12.77v4.19h-12.77zM193.09 267.67h6.39v4.19h-6.39zM218.64 267.67h6.39v4.19h-6.39zM218.64 271.86h12.77v4.19h-12.77zM256.96 271.86h6.39v4.19h-6.39zM218.64 280.23h12.77v4.19h-12.77zM269.74 288.6h6.39v4.19h-6.39zM225.03 292.79h6.39v4.19h-6.39zM256.96 292.79h6.39v4.19h-6.39zM231.42 296.97h6.39v4.19h-6.39zM256.96 296.97h6.39v4.19h-6.39zM269.74 309.53h6.39v4.19h-6.39zM256.96 313.72h6.39v4.19h-6.39z" fill="#128bd3"/>
<path d="M154.77 66.74h6.39v4.19h-6.39zM212.25 66.74h12.77v4.19h-12.77zM154.77 70.93h6.39v4.19h-6.39zM167.54 75.12h6.39v4.19h-6.39zM218.64 83.49h6.39v4.19h-6.39zM167.54 87.67h6.39v4.19h-6.39zM212.25 87.67h6.39v4.19h-6.39zM71.74 96.05h6.39v4.19h-6.39zM212.25 96.05h6.39v4.19h-6.39zM141.99 100.23h12.77v4.19h-12.77zM154.77 104.42h6.39v4.19h-6.39zM135.61 125.35h6.39v4.19h-6.39zM154.77 125.35h6.39v4.19h-6.39zM205.87 125.35h6.39v4.19h-6.39zM122.83 129.53h6.39v4.19h-6.39zM154.77 129.53h6.39v4.19h-6.39zM148.38 133.72h6.39v4.19h-6.39zM71.74 137.91h6.39v4.19h-6.39zM173.93 137.91h6.39v4.19h-6.39zM154.77 142.09h6.39v4.19h-6.39zM135.61 146.28h6.39v4.19h-6.39zM148.38 146.28h6.39v4.19h-6.39zM199.48 146.28h6.39v4.19h-6.39zM71.74 154.65h6.39v4.19h-6.39zM135.61 154.65h6.39v4.19h-6.39zM103.67 163.02h6.39v4.19h-6.39zM122.83 163.02h6.39v4.19h-6.39zM148.38 171.39h6.39v4.19h-6.39zM167.54 171.39h6.39v4.19h-6.39zM90.9 175.58h6.39v4.19h-6.39zM122.83 175.58h6.39v4.19h-6.39zM135.61 183.95h6.39v4.19h-6.39zM148.38 188.14h6.39v4.19h-6.39zM90.9 192.32h6.39v4.19h-6.39zM167.54 192.32h6.39v4.19h-6.39zM97.28 204.88h6.39v4.19h-6.39zM154.77 204.88h6.39v4.19h-6.39zM180.32 204.88h6.39v4.19h-6.39zM173.93 213.25h6.39v4.19h-6.39zM186.71 213.25h6.39v4.19h-6.39zM116.45 221.63h6.39v4.19h-6.39zM186.71 221.63h12.77v4.19h-12.77zM141.99 246.74h6.39v4.19h-6.39zM193.09 246.74h6.39v4.19h-6.39zM154.77 250.93h6.39v4.19h-6.39zM199.48 250.93h6.39v4.19h-6.39zM167.54 255.11h6.39v4.19h-6.39zM167.54 259.3h6.39v4.19h-6.39zM256.96 259.3h6.39v4.19h-6.39zM231.42 267.67h6.39v4.19h-6.39zM186.71 271.86h6.39v4.19h-6.39zM199.48 276.04h6.39v4.19h-6.39zM250.58 276.04h6.39v4.19h-6.39zM231.42 280.23h6.39v4.19h-6.39zM263.35 280.23h6.39v4.19h-6.39zM269.74 284.42h6.39v4.19h-6.39zM231.42 288.6h6.39v4.19h-6.39zM231.42 292.79h6.39v4.19h-6.39zM263.35 301.16h6.39v4.19h-6.39z" fill="#079dcf"/>
<path d="M154.77 79.3h6.39v4.19h-6.39zM154.77 87.67h6.39v4.19h-6.39zM154.77 91.86h6.39v4.19h-6.39zM218.64 96.05h6.39v4.19h-6.39zM71.74 112.79h6.39v4.19h-6.39zM135.61 112.79h6.39v4.19h-6.39zM154.77 121.16h6.39v4.19h-6.39zM78.12 125.35h6.39v4.19h-6.39zM135.61 133.72h6.39v4.19h-6.39zM199.48 133.72h6.39v4.19h-6.39zM122.83 137.91h6.39v4.19h-6.39zM90.9 142.09h6.39v4.19h-6.39zM71.74 146.28h6.39v4.19h-6.39zM167.54 158.84h6.39v4.19h-6.39zM135.61 171.39h6.39v4.19h-6.39zM148.38 175.58h6.39v4.19h-6.39zM90.9 183.95h6.39v4.19h-6.39zM135.61 188.14h6.39v4.19h-6.39zM90.9 196.51h6.39v4.19h-6.39zM141.99 196.51h6.39v4.19h-6.39zM180.32 213.25h6.39v4.19h-6.39zM180.32 217.44h6.39v4.19h-6.39zM193.09 217.44h6.39v4.19h-6.39zM180.32 225.81h6.39v4.19h-6.39zM173.93 230h12.77v4.19h-12.77zM180.32 234.18h12.77v4.19h-12.77zM186.71 238.37h6.39v4.19h-6.39zM218.64 238.37h6.39v4.19h-6.39zM231.42 242.56h6.39v4.19h-6.39zM199.48 246.74h6.39v4.19h-6.39zM225.03 246.74h6.39v4.19h-6.39zM205.87 250.93h6.39v4.19h-6.39zM237.8 255.11h6.39v4.19h-6.39zM218.64 259.3h6.39v4.19h-6.39zM250.58 259.3h6.39v4.19h-6.39zM225.03 276.04h25.55v4.19h-25.55zM212.25 284.42h19.16v4.19h-19.16zM244.19 284.42h6.39v4.19h-6.39zM225.03 288.6h6.39v4.19h-6.39zM250.58 288.6h6.39v4.19h-6.39zM263.35 296.97h12.77v4.19h-12.77zM269.74 305.35h6.39v4.19h-6.39zM263.35 309.53h6.39v4.19h-6.39z" fill="#07a9c2"/>
<path d="M212.25 83.49h6.39v4.19h-6.39zM58.96 104.42h6.39v4.19h-6.39zM71.74 121.16h6.39v4.19h-6.39zM212.25 125.35h6.39v4.19h-6.39zM71.74 129.53h6.39v4.19h-6.39zM84.51 129.53h6.39v4.19h-6.39zM71.74 133.72h6.39v4.19h-6.39zM167.54 179.77h6.39v4.19h-6.39zM199.48 183.95h6.39v4.19h-6.39zM180.32 209.07h6.39v4.19h-6.39zM186.71 225.81h12.77v4.19h-12.77zM212.25 225.81h6.39v4.19h-6.39zM199.48 230h6.39v4.19h-6.39zM186.71 242.56h6.39v4.19h-6.39zM199.48 242.56h6.39v4.19h-6.39zM212.25 250.93h6.39v4.19h-6.39zM237.8 250.93h6.39v4.19h-6.39zM225.03 259.3h12.77v4.19h-12.77zM180.32 263.49h6.39v4.19h-6.39zM244.19 263.49h6.39v4.19h-6.39zM225.03 267.67h6.39v4.19h-6.39zM231.42 271.86h6.39v4.19h-6.39zM250.58 292.79h6.39v4.19h-6.39zM263.35 292.79h12.77v4.19h-12.77zM237.8 296.97h6.39v4.19h-6.39zM244.19 301.16h6.39v4.19h-6.39z" fill="#18b1b2"/>
<path d="M212.25 75.12h6.39v4.19h-6.39zM154.77 83.49h6.39v4.19h-6.39zM65.35 108.6h6.39v4.19h-6.39zM78.12 121.16h6.39v4.19h-6.39zM135.61 121.16h6.39v4.19h-6.39zM122.83 171.39h6.39v4.19h-6.39zM135.61 196.51h6.39v4.19h-6.39zM199.48 196.51h6.39v4.19h-6.39zM148.38 209.07h6.39v4.19h-6.39zM186.71 209.07h6.39v4.19h-6.39zM186.71 217.44h6.39v4.19h-6.39zM154.77 221.63h12.77v4.19h-12.77zM167.54 230h6.39v4.19h-6.39zM199.48 234.18h6.39v4.19h-6.39zM180.32 238.37h6.39v4.19h-6.39zM212.25 238.37h6.39v4.19h-6.39zM193.09 242.56h6.39v4.19h-6.39zM218.64 242.56h6.39v4.19h-6.39zM212.25 255.11h12.77v4.19h-12.77zM237.8 267.67h12.77v4.19h-12.77zM256.96 267.67h6.39v4.19h-6.39zM237.8 280.23h6.39v4.19h-6.39zM256.96 284.42h6.39v4.19h-6.39zM237.8 288.6h6.39v4.19h-6.39zM237.8 292.79h6.39v4.19h-6.39zM244.19 296.97h6.39v4.19h-6.39zM256.96 301.16h6.39v4.19h-6.39zM244.19 305.35h6.39v4.19h-6.39zM256.96 305.35h6.39v4.19h-6.39z" fill="#33b8a1"/>
<path d="M154.77 75.12h6.39v4.19h-6.39zM154.77 96.05h6.39v4.19h-6.39zM212.25 104.42h6.39v4.19h-6.39zM65.35 112.79h6.39v4.19h-6.39zM212.25 116.98h6.39v4.19h-6.39zM71.74 125.35h6.39v4.19h-6.39zM199.48 175.58h6.39v4.19h-6.39zM135.61 192.32h6.39v4.19h-6.39zM141.99 204.88h12.77v4.19h-12.77zM167.54 225.81h6.39v4.19h-6.39zM205.87 225.81h6.39v4.19h-6.39zM186.71 230h6.39v4.19h-6.39zM205.87 234.18h6.39v4.19h-6.39zM218.64 234.18h6.39v4.19h-6.39zM218.64 246.74h6.39v4.19h-6.39zM218.64 250.93h6.39v4.19h-6.39zM231.42 263.49h6.39v4.19h-6.39zM250.58 271.86h6.39v4.19h-6.39zM237.8 284.42h6.39v4.19h-6.39z" fill="#55bd8e"/>
<path d="M218.64 75.12h6.39v4.19h-6.39zM52.57 91.86h6.39v4.19h-6.39zM58.96 100.23h6.39v4.19h-6.39zM167.54 217.44h6.39v4.19h-6.39zM167.54 221.63h6.39v4.19h-6.39zM193.09 234.18h6.39v4.19h-6.39zM212.25 234.18h6.39v4.19h-6.39zM193.09 238.37h6.39v4.19h-6.39zM205.87 242.56h6.39v4.19h-6.39zM225.03 263.49h6.39v4.19h-6.39zM256.96 276.04h6.39v4.19h-6.39zM244.19 280.23h6.39v4.19h-6.39zM231.42 284.42h6.39v4.19h-6.39zM276.13 305.35h6.39v4.19h-6.39zM256.96 309.53h6.39v4.19h-6.39z" fill="#7abf7c"/>
<path d="M180.32 221.63h6.39v4.19h-6.39zM193.09 230h6.39v4.19h-6.39zM199.48 238.37h12.77v4.19h-12.77zM225.03 250.93h6.39v4.19h-6.39zM231.42 255.11h6.39v4.19h-6.39zM237.8 259.3h6.39v4.19h-6.39zM237.8 263.49h6.39v4.19h-6.39zM237.8 271.86h6.39v4.19h-6.39zM263.35 276.04h6.39v4.19h-6.39zM244.19 288.6h6.39v4.19h-6.39z" fill="#9bbf6f"/>
<path d="M71.74 104.42h6.39v4.19h-6.39zM71.74 116.98h6.39v4.19h-6.39zM135.61 179.77h6.39v4.19h-6.39zM180.32 196.51h6.39v4.19h-6.39zM141.99 200.7h6.39v4.19h-6.39zM161.16 217.44h6.39v4.19h-6.39zM199.48 217.44h6.39v4.19h-6.39zM199.48 225.81h6.39v4.19h-6.39zM244.19 271.86h6.39v4.19h-6.39zM256.96 280.23h6.39v4.19h-6.39zM250.58 305.35h6.39v4.19h-6.39z" fill="#b8bd63"/>
<path d="M148.38 200.7h6.39v4.19h-6.39zM212.25 242.56h6.39v4.19h-6.39zM225.03 242.56h6.39v4.19h-6.39zM205.87 246.74h6.39v4.19h-6.39zM263.35 284.42h6.39v4.19h-6.39z" fill="#d3bb58"/>
<path d="M212.25 246.74h6.39v4.19h-6.39zM231.42 250.93h6.39v4.19h-6.39zM244.19 292.79h6.39v4.19h-6.39zM250.58 301.16h6.39v4.19h-6.39z" fill="#ecb94c"/>
<path d="M154.77 209.07h6.39v4.19h-6.39zM154.77 213.25h6.39v4.19h-6.39zM225.03 255.11h6.39v4.19h-6.39zM244.19 259.3h6.39v4.19h-6.39zM250.58 267.67h6.39v4.19h-6.39zM256.96 288.6h6.39v4.19h-6.39zM250.58 296.97h6.39v4.19h-6.39z" fill="#fec13a"/>
<path d="M263.35 288.6h6.39v4.19h-6.39z" fill="#f5e31e"/>
<path d="M250.58 280.23h6.39v4.19h-6.39z" fill="#f9fb0e"/>
<path d="M39.8 50V317.9M46.19 50V317.9M52.57 50V317.9M58.96 50V317.9M65.35 50V317.9M71.74 50V317.9M78.12 50V317.9M84.51 50V317.9M90.9 50V317.9M97.28 50V317.9M103.67 50V317.9M110.06 50V317.9M116.45 50V317.9M122.83 50V317.9M129.22 50V317.9M135.61 50V317.9M141.99 50V317.9M148.38 50V317.9M154.77 50V317.9M161.16 50V317.9M167.54 50V317.9M173.93 50V317.9M180.32 50V317.9M186.71 50V317.9M193.09 50V317.9M199.48 50V317.9M205.87 50V317.9M212.25 50V317.9M218.64 50V317.9M225.03 50V317.9M231.42 50V317.9M237.8 50V317.9M244.19 50V317.9M250.58 50V317.9M256.96 50V317.9M263.35 50V317.9M269.74 50V317.9M276.13 50V317.9M282.51 50V317.9M288.9 50V317.9M39.8 50H288.9M39.8 54.19H288.9M39.8 58.37H288.9M39.8 62.56H288.9M39.8 66.74H288.9M39.8 70.93H288.9M39.8 75.12H288.9M39.8 79.3H288.9M39.8 83.49H288.9M39.8 87.67H288.9M39.8 91.86H288.9M39.8 96.05H288.9M39.8 100.23H288.9M39.8 104.42H288.9M39.8 108.6H288.9M39.8 112.79H288.9M39.8 116.98H288.9M39.8 121.16H288.9M39.8 125.35H288.9M39.8 129.53H288.9M39.8 133.72H288.9M39.8 137.91H288.9M39.8 142.09H288.9M39.8 146.28H288.9M39.8 150.46H288.9M39.8 154.65H288.9M39.8 158.84H288.9M39.8 163.02H288.9M39.8 167.21H288.9M39.8 171.39H288.9M39.8 175.58H288.9M39.8 179.77H288.9M39.8 183.95H288.9M39.8 188.14H288.9M39.8 192.32H288.9M39.8 196.51H288.9M39.8 200.7H288.9M39.8 204.88H288.9M39.8 209.07H288.9M39.8 213.25H288.9M39.8 217.44H288.9M39.8 221.63H288.9M39.8 225.81H288.9M39.8 230H288.9M39.8 234.18H288.9M39.8 238.37H288.9M39.8 242.56H288.9M39.8 246.74H288.9M39.8 250.93H288.9M39.8 255.11H288.9M39.8 259.3H288.9M39.8 263.49H288.9M39.8 267.67H288.9M39.8 271.86H288.9M39.8 276.04H288.9M39.8 280.23H288.9M39.8 284.42H288.9M39.8 288.6H288.9M39.8 292.79H288.9M39.8 296.97H288.9M39.8 301.16H288.9M39.8 305.35H288.9M39.8 309.53H288.9M39.8 313.72H288.9M39.8 317.9H288.9" stroke="#000" stroke-width="0.6" stroke-opacity="0.85" fill="none"/>
</g>
</g>
<path d="M39 50V318.2H288.9" stroke="#c4c4c8" stroke-width="1.3" fill="none"/>
<g filter="url(#blA)" shape-rendering="crispEdges"><rect x="40" y="230.8" width="73" height="87.2" fill="#444"/>
<rect x="40" y="230.8" width="4.25" height="4.23" fill="#525252"/>
<rect x="43.65" y="230.8" width="4.25" height="4.23" fill="#838383"/>
<rect x="47.3" y="230.8" width="4.25" height="4.23" fill="#9f9f9f"/>
<rect x="50.95" y="230.8" width="4.25" height="4.23" fill="#dfdfdf"/>
<rect x="54.6" y="230.8" width="4.25" height="4.23" fill="#ffffff"/>
<rect x="58.25" y="230.8" width="4.25" height="4.23" fill="#fafafa"/>
<rect x="61.9" y="230.8" width="4.25" height="4.23" fill="#d2d2d2"/>
<rect x="65.55" y="230.8" width="4.25" height="4.23" fill="#8c8c8c"/>
<rect x="69.2" y="230.8" width="4.25" height="4.23" fill="#666666"/>
<rect x="72.85" y="230.8" width="4.25" height="4.23" fill="#474747"/>
<rect x="76.5" y="230.8" width="4.25" height="4.23" fill="#444444"/>
<rect x="80.15" y="230.8" width="4.25" height="4.23" fill="#414141"/>
<rect x="83.8" y="230.8" width="4.25" height="4.23" fill="#3e3e3e"/>
<rect x="87.45" y="230.8" width="4.25" height="4.23" fill="#555555"/>
<rect x="91.1" y="230.8" width="4.25" height="4.23" fill="#383838"/>
<rect x="94.75" y="230.8" width="4.25" height="4.23" fill="#4a4a4a"/>
<rect x="98.4" y="230.8" width="4.25" height="4.23" fill="#474747"/>
<rect x="102.05" y="230.8" width="4.25" height="4.23" fill="#2c2c2c"/>
<rect x="105.7" y="230.8" width="4.25" height="4.23" fill="#414141"/>
<rect x="109.35" y="230.8" width="4.25" height="4.23" fill="#3e3e3e"/>
<rect x="40" y="234.43" width="4.25" height="4.23" fill="#383838"/>
<rect x="43.65" y="234.43" width="4.25" height="4.23" fill="#525252"/>
<rect x="47.3" y="234.43" width="4.25" height="4.23" fill="#8c8c8c"/>
<rect x="50.95" y="234.43" width="4.25" height="4.23" fill="#cecece"/>
<rect x="54.6" y="234.43" width="4.25" height="4.23" fill="#f1f1f1"/>
<rect x="58.25" y="234.43" width="4.25" height="4.23" fill="#d6d6d6"/>
<rect x="61.9" y="234.43" width="4.25" height="4.23" fill="#d6d6d6"/>
<rect x="65.55" y="234.43" width="4.25" height="4.23" fill="#b4b4b4"/>
<rect x="69.2" y="234.43" width="4.25" height="4.23" fill="#757575"/>
<rect x="72.85" y="234.43" width="4.25" height="4.23" fill="#3e3e3e"/>
<rect x="76.5" y="234.43" width="4.25" height="4.23" fill="#444444"/>
<rect x="80.15" y="234.43" width="4.25" height="4.23" fill="#444444"/>
<rect x="83.8" y="234.43" width="4.25" height="4.23" fill="#5f5f5f"/>
<rect x="87.45" y="234.43" width="4.25" height="4.23" fill="#5f5f5f"/>
<rect x="91.1" y="234.43" width="4.25" height="4.23" fill="#5f5f5f"/>
<rect x="94.75" y="234.43" width="4.25" height="4.23" fill="#4a4a4a"/>
<rect x="98.4" y="234.43" width="4.25" height="4.23" fill="#4a4a4a"/>
<rect x="102.05" y="234.43" width="4.25" height="4.23" fill="#323232"/>
<rect x="105.7" y="234.43" width="4.25" height="4.23" fill="#4a4a4a"/>
<rect x="109.35" y="234.43" width="4.25" height="4.23" fill="#4a4a4a"/>
<rect x="40" y="238.07" width="4.25" height="4.23" fill="#101010"/>
<rect x="43.65" y="238.07" width="4.25" height="4.23" fill="#3b3b3b"/>
<rect x="47.3" y="238.07" width="4.25" height="4.23" fill="#757575"/>
<rect x="50.95" y="238.07" width="4.25" height="4.23" fill="#c0c0c0"/>
<rect x="54.6" y="238.07" width="4.25" height="4.23" fill="#e7e7e7"/>
<rect x="58.25" y="238.07" width="4.25" height="4.23" fill="#b4b4b4"/>
<rect x="61.9" y="238.07" width="4.25" height="4.23" fill="#b8b8b8"/>
<rect x="65.55" y="238.07" width="4.25" height="4.23" fill="#9b9b9b"/>
<rect x="69.2" y="238.07" width="4.25" height="4.23" fill="#525252"/>
<rect x="72.85" y="238.07" width="4.25" height="4.23" fill="#555555"/>
<rect x="76.5" y="238.07" width="4.25" height="4.23" fill="#444444"/>
<rect x="80.15" y="238.07" width="4.25" height="4.23" fill="#474747"/>
<rect x="83.8" y="238.07" width="4.25" height="4.23" fill="#666666"/>
<rect x="87.45" y="238.07" width="4.25" height="4.23" fill="#585858"/>
<rect x="91.1" y="238.07" width="4.25" height="4.23" fill="#5b5b5b"/>
<rect x="94.75" y="238.07" width="4.25" height="4.23" fill="#4a4a4a"/>
<rect x="98.4" y="238.07" width="4.25" height="4.23" fill="#383838"/>
<rect x="102.05" y="238.07" width="4.25" height="4.23" fill="#3b3b3b"/>
<rect x="105.7" y="238.07" width="4.25" height="4.23" fill="#444444"/>
<rect x="109.35" y="238.07" width="4.25" height="4.23" fill="#474747"/>
<rect x="40" y="241.7" width="4.25" height="4.23" fill="#101010"/>
<rect x="43.65" y="241.7" width="4.25" height="4.23" fill="#272727"/>
<rect x="47.3" y="241.7" width="4.25" height="4.23" fill="#666666"/>
<rect x="50.95" y="241.7" width="4.25" height="4.23" fill="#909090"/>
<rect x="54.6" y="241.7" width="4.25" height="4.23" fill="#c0c0c0"/>
<rect x="58.25" y="241.7" width="4.25" height="4.23" fill="#939393"/>
<rect x="61.9" y="241.7" width="4.25" height="4.23" fill="#7c7c7c"/>
<rect x="65.55" y="241.7" width="4.25" height="4.23" fill="#717171"/>
<rect x="69.2" y="241.7" width="4.25" height="4.23" fill="#5b5b5b"/>
<rect x="72.85" y="241.7" width="4.25" height="4.23" fill="#525252"/>
<rect x="76.5" y="241.7" width="4.25" height="4.23" fill="#5f5f5f"/>
<rect x="80.15" y="241.7" width="4.25" height="4.23" fill="#666666"/>
<rect x="83.8" y="241.7" width="4.25" height="4.23" fill="#5b5b5b"/>
<rect x="87.45" y="241.7" width="4.25" height="4.23" fill="#626262"/>
<rect x="91.1" y="241.7" width="4.25" height="4.23" fill="#3e3e3e"/>
<rect x="94.75" y="241.7" width="4.25" height="4.23" fill="#4a4a4a"/>
<rect x="98.4" y="241.7" width="4.25" height="4.23" fill="#3b3b3b"/>
<rect x="102.05" y="241.7" width="4.25" height="4.23" fill="#474747"/>
<rect x="105.7" y="241.7" width="4.25" height="4.23" fill="#525252"/>
<rect x="109.35" y="241.7" width="4.25" height="4.23" fill="#444444"/>
<rect x="40" y="245.33" width="4.25" height="4.23" fill="#222222"/>
<rect x="43.65" y="245.33" width="4.25" height="4.23" fill="#414141"/>
<rect x="47.3" y="245.33" width="4.25" height="4.23" fill="#555555"/>
<rect x="50.95" y="245.33" width="4.25" height="4.23" fill="#a3a3a3"/>
<rect x="54.6" y="245.33" width="4.25" height="4.23" fill="#bcbcbc"/>
<rect x="58.25" y="245.33" width="4.25" height="4.23" fill="#757575"/>
<rect x="61.9" y="245.33" width="4.25" height="4.23" fill="#808080"/>
<rect x="65.55" y="245.33" width="4.25" height="4.23" fill="#5b5b5b"/>
<rect x="69.2" y="245.33" width="4.25" height="4.23" fill="#555555"/>
<rect x="72.85" y="245.33" width="4.25" height="4.23" fill="#666666"/>
<rect x="76.5" y="245.33" width="4.25" height="4.23" fill="#5f5f5f"/>
<rect x="80.15" y="245.33" width="4.25" height="4.23" fill="#525252"/>
<rect x="83.8" y="245.33" width="4.25" height="4.23" fill="#474747"/>
<rect x="87.45" y="245.33" width="4.25" height="4.23" fill="#414141"/>
<rect x="91.1" y="245.33" width="4.25" height="4.23" fill="#3b3b3b"/>
<rect x="94.75" y="245.33" width="4.25" height="4.23" fill="#4a4a4a"/>
<rect x="98.4" y="245.33" width="4.25" height="4.23" fill="#3e3e3e"/>
<rect x="102.05" y="245.33" width="4.25" height="4.23" fill="#383838"/>
<rect x="105.7" y="245.33" width="4.25" height="4.23" fill="#626262"/>
<rect x="109.35" y="245.33" width="4.25" height="4.23" fill="#5b5b5b"/>
<rect x="40" y="248.97" width="4.25" height="4.23" fill="#222222"/>
<rect x="43.65" y="248.97" width="4.25" height="4.23" fill="#4a4a4a"/>
<rect x="47.3" y="248.97" width="4.25" height="4.23" fill="#808080"/>
<rect x="50.95" y="248.97" width="4.25" height="4.23" fill="#ffffff"/>
<rect x="54.6" y="248.97" width="4.25" height="4.23" fill="#ffffff"/>
<rect x="58.25" y="248.97" width="4.25" height="4.23" fill="#757575"/>
<rect x="61.9" y="248.97" width="4.25" height="4.23" fill="#555555"/>
<rect x="65.55" y="248.97" width="4.25" height="4.23" fill="#525252"/>
<rect x="69.2" y="248.97" width="4.25" height="4.23" fill="#666666"/>
<rect x="72.85" y="248.97" width="4.25" height="4.23" fill="#626262"/>
<rect x="76.5" y="248.97" width="4.25" height="4.23" fill="#5f5f5f"/>
<rect x="80.15" y="248.97" width="4.25" height="4.23" fill="#5b5b5b"/>
<rect x="83.8" y="248.97" width="4.25" height="4.23" fill="#3e3e3e"/>
<rect x="87.45" y="248.97" width="4.25" height="4.23" fill="#3b3b3b"/>
<rect x="91.1" y="248.97" width="4.25" height="4.23" fill="#383838"/>
<rect x="94.75" y="248.97" width="4.25" height="4.23" fill="#4a4a4a"/>
<rect x="98.4" y="248.97" width="4.25" height="4.23" fill="#626262"/>
<rect x="102.05" y="248.97" width="4.25" height="4.23" fill="#5f5f5f"/>
<rect x="105.7" y="248.97" width="4.25" height="4.23" fill="#5b5b5b"/>
<rect x="109.35" y="248.97" width="4.25" height="4.23" fill="#585858"/>
<rect x="40" y="252.6" width="4.25" height="4.23" fill="#222222"/>
<rect x="43.65" y="252.6" width="4.25" height="4.23" fill="#383838"/>
<rect x="47.3" y="252.6" width="4.25" height="4.23" fill="#6e6e6e"/>
<rect x="50.95" y="252.6" width="4.25" height="4.23" fill="#f1f1f1"/>
<rect x="54.6" y="252.6" width="4.25" height="4.23" fill="#f1f1f1"/>
<rect x="58.25" y="252.6" width="4.25" height="4.23" fill="#757575"/>
<rect x="61.9" y="252.6" width="4.25" height="4.23" fill="#585858"/>
<rect x="65.55" y="252.6" width="4.25" height="4.23" fill="#585858"/>
<rect x="69.2" y="252.6" width="4.25" height="4.23" fill="#585858"/>
<rect x="72.85" y="252.6" width="4.25" height="4.23" fill="#585858"/>
<rect x="76.5" y="252.6" width="4.25" height="4.23" fill="#444444"/>
<rect x="80.15" y="252.6" width="4.25" height="4.23" fill="#444444"/>
<rect x="83.8" y="252.6" width="4.25" height="4.23" fill="#444444"/>
<rect x="87.45" y="252.6" width="4.25" height="4.23" fill="#444444"/>
<rect x="91.1" y="252.6" width="4.25" height="4.23" fill="#444444"/>
<rect x="94.75" y="252.6" width="4.25" height="4.23" fill="#666666"/>
<rect x="98.4" y="252.6" width="4.25" height="4.23" fill="#666666"/>
<rect x="102.05" y="252.6" width="4.25" height="4.23" fill="#666666"/>
<rect x="105.7" y="252.6" width="4.25" height="4.23" fill="#838383"/>
<rect x="109.35" y="252.6" width="4.25" height="4.23" fill="#666666"/>
<rect x="40" y="256.23" width="4.25" height="4.23" fill="#222222"/>
<rect x="43.65" y="256.23" width="4.25" height="4.23" fill="#3b3b3b"/>
<rect x="47.3" y="256.23" width="4.25" height="4.23" fill="#939393"/>
<rect x="50.95" y="256.23" width="4.25" height="4.23" fill="#c0c0c0"/>
<rect x="54.6" y="256.23" width="4.25" height="4.23" fill="#e7e7e7"/>
<rect x="58.25" y="256.23" width="4.25" height="4.23" fill="#757575"/>
<rect x="61.9" y="256.23" width="4.25" height="4.23" fill="#5b5b5b"/>
<rect x="65.55" y="256.23" width="4.25" height="4.23" fill="#444444"/>
<rect x="69.2" y="256.23" width="4.25" height="4.23" fill="#383838"/>
<rect x="72.85" y="256.23" width="4.25" height="4.23" fill="#3b3b3b"/>
<rect x="76.5" y="256.23" width="4.25" height="4.23" fill="#444444"/>
<rect x="80.15" y="256.23" width="4.25" height="4.23" fill="#2f2f2f"/>
<rect x="83.8" y="256.23" width="4.25" height="4.23" fill="#4a4a4a"/>
<rect x="87.45" y="256.23" width="4.25" height="4.23" fill="#3e3e3e"/>
<rect x="91.1" y="256.23" width="4.25" height="4.23" fill="#414141"/>
<rect x="94.75" y="256.23" width="4.25" height="4.23" fill="#666666"/>
<rect x="98.4" y="256.23" width="4.25" height="4.23" fill="#525252"/>
<rect x="102.05" y="256.23" width="4.25" height="4.23" fill="#717171"/>
<rect x="105.7" y="256.23" width="4.25" height="4.23" fill="#7c7c7c"/>
<rect x="109.35" y="256.23" width="4.25" height="4.23" fill="#626262"/>
<rect x="40" y="259.87" width="4.25" height="4.23" fill="#383838"/>
<rect x="43.65" y="259.87" width="4.25" height="4.23" fill="#3e3e3e"/>
<rect x="47.3" y="259.87" width="4.25" height="4.23" fill="#666666"/>
<rect x="50.95" y="259.87" width="4.25" height="4.23" fill="#909090"/>
<rect x="54.6" y="259.87" width="4.25" height="4.23" fill="#ffffff"/>
<rect x="58.25" y="259.87" width="4.25" height="4.23" fill="#939393"/>
<rect x="61.9" y="259.87" width="4.25" height="4.23" fill="#5f5f5f"/>
<rect x="65.55" y="259.87" width="4.25" height="4.23" fill="#3b3b3b"/>
<rect x="69.2" y="259.87" width="4.25" height="4.23" fill="#414141"/>
<rect x="72.85" y="259.87" width="4.25" height="4.23" fill="#383838"/>
<rect x="76.5" y="259.87" width="4.25" height="4.23" fill="#444444"/>
<rect x="80.15" y="259.87" width="4.25" height="4.23" fill="#4a4a4a"/>
<rect x="83.8" y="259.87" width="4.25" height="4.23" fill="#414141"/>
<rect x="87.45" y="259.87" width="4.25" height="4.23" fill="#474747"/>
<rect x="91.1" y="259.87" width="4.25" height="4.23" fill="#3e3e3e"/>
<rect x="94.75" y="259.87" width="4.25" height="4.23" fill="#4a4a4a"/>
<rect x="98.4" y="259.87" width="4.25" height="4.23" fill="#252525"/>
<rect x="102.05" y="259.87" width="4.25" height="4.23" fill="#626262"/>
<rect x="105.7" y="259.87" width="4.25" height="4.23" fill="#525252"/>
<rect x="109.35" y="259.87" width="4.25" height="4.23" fill="#444444"/>
<rect x="40" y="263.5" width="4.25" height="4.23" fill="#383838"/>
<rect x="43.65" y="263.5" width="4.25" height="4.23" fill="#414141"/>
<rect x="47.3" y="263.5" width="4.25" height="4.23" fill="#555555"/>
<rect x="50.95" y="263.5" width="4.25" height="4.23" fill="#838383"/>
<rect x="54.6" y="263.5" width="4.25" height="4.23" fill="#ffffff"/>
<rect x="58.25" y="263.5" width="4.25" height="4.23" fill="#b4b4b4"/>
<rect x="61.9" y="263.5" width="4.25" height="4.23" fill="#808080"/>
<rect x="65.55" y="263.5" width="4.25" height="4.23" fill="#787878"/>
<rect x="69.2" y="263.5" width="4.25" height="4.23" fill="#555555"/>
<rect x="72.85" y="263.5" width="4.25" height="4.23" fill="#4a4a4a"/>
<rect x="76.5" y="263.5" width="4.25" height="4.23" fill="#2c2c2c"/>
<rect x="80.15" y="263.5" width="4.25" height="4.23" fill="#383838"/>
<rect x="83.8" y="263.5" width="4.25" height="4.23" fill="#474747"/>
<rect x="87.45" y="263.5" width="4.25" height="4.23" fill="#414141"/>
<rect x="91.1" y="263.5" width="4.25" height="4.23" fill="#3b3b3b"/>
<rect x="94.75" y="263.5" width="4.25" height="4.23" fill="#4a4a4a"/>
<rect x="98.4" y="263.5" width="4.25" height="4.23" fill="#272727"/>
<rect x="102.05" y="263.5" width="4.25" height="4.23" fill="#383838"/>
<rect x="105.7" y="263.5" width="4.25" height="4.23" fill="#474747"/>
<rect x="109.35" y="263.5" width="4.25" height="4.23" fill="#414141"/>
<rect x="40" y="267.13" width="4.25" height="4.23" fill="#383838"/>
<rect x="43.65" y="267.13" width="4.25" height="4.23" fill="#4a4a4a"/>
<rect x="47.3" y="267.13" width="4.25" height="4.23" fill="#626262"/>
<rect x="50.95" y="267.13" width="4.25" height="4.23" fill="#7c7c7c"/>
<rect x="54.6" y="267.13" width="4.25" height="4.23" fill="#ffffff"/>
<rect x="58.25" y="267.13" width="4.25" height="4.23" fill="#fafafa"/>
<rect x="61.9" y="267.13" width="4.25" height="4.23" fill="#b0b0b0"/>
<rect x="65.55" y="267.13" width="4.25" height="4.23" fill="#8c8c8c"/>
<rect x="69.2" y="267.13" width="4.25" height="4.23" fill="#838383"/>
<rect x="72.85" y="267.13" width="4.25" height="4.23" fill="#626262"/>
<rect x="76.5" y="267.13" width="4.25" height="4.23" fill="#444444"/>
<rect x="80.15" y="267.13" width="4.25" height="4.23" fill="#414141"/>
<rect x="83.8" y="267.13" width="4.25" height="4.23" fill="#3e3e3e"/>
<rect x="87.45" y="267.13" width="4.25" height="4.23" fill="#3b3b3b"/>
<rect x="91.1" y="267.13" width="4.25" height="4.23" fill="#383838"/>
<rect x="94.75" y="267.13" width="4.25" height="4.23" fill="#323232"/>
<rect x="98.4" y="267.13" width="4.25" height="4.23" fill="#2f2f2f"/>
<rect x="102.05" y="267.13" width="4.25" height="4.23" fill="#2c2c2c"/>
<rect x="105.7" y="267.13" width="4.25" height="4.23" fill="#414141"/>
<rect x="109.35" y="267.13" width="4.25" height="4.23" fill="#3e3e3e"/>
<rect x="40" y="270.77" width="4.25" height="4.23" fill="#222222"/>
<rect x="43.65" y="270.77" width="4.25" height="4.23" fill="#383838"/>
<rect x="47.3" y="270.77" width="4.25" height="4.23" fill="#525252"/>
<rect x="50.95" y="270.77" width="4.25" height="4.23" fill="#8c8c8c"/>
<rect x="54.6" y="270.77" width="4.25" height="4.23" fill="#f1f1f1"/>
<rect x="58.25" y="270.77" width="4.25" height="4.23" fill="#fafafa"/>
<rect x="61.9" y="270.77" width="4.25" height="4.23" fill="#d6d6d6"/>
<rect x="65.55" y="270.77" width="4.25" height="4.23" fill="#b4b4b4"/>
<rect x="69.2" y="270.77" width="4.25" height="4.23" fill="#939393"/>
<rect x="72.85" y="270.77" width="4.25" height="4.23" fill="#585858"/>
<rect x="76.5" y="270.77" width="4.25" height="4.23" fill="#444444"/>
<rect x="80.15" y="270.77" width="4.25" height="4.23" fill="#444444"/>
<rect x="83.8" y="270.77" width="4.25" height="4.23" fill="#444444"/>
<rect x="87.45" y="270.77" width="4.25" height="4.23" fill="#444444"/>
<rect x="91.1" y="270.77" width="4.25" height="4.23" fill="#444444"/>
<rect x="94.75" y="270.77" width="4.25" height="4.23" fill="#323232"/>
<rect x="98.4" y="270.77" width="4.25" height="4.23" fill="#323232"/>
<rect x="102.05" y="270.77" width="4.25" height="4.23" fill="#323232"/>
<rect x="105.7" y="270.77" width="4.25" height="4.23" fill="#4a4a4a"/>
<rect x="109.35" y="270.77" width="4.25" height="4.23" fill="#4a4a4a"/>
<rect x="40" y="274.4" width="4.25" height="4.23" fill="#222222"/>
<rect x="43.65" y="274.4" width="4.25" height="4.23" fill="#3b3b3b"/>
<rect x="47.3" y="274.4" width="4.25" height="4.23" fill="#585858"/>
<rect x="50.95" y="274.4" width="4.25" height="4.23" fill="#c0c0c0"/>
<rect x="54.6" y="274.4" width="4.25" height="4.23" fill="#ffffff"/>
<rect x="58.25" y="274.4" width="4.25" height="4.23" fill="#fafafa"/>
<rect x="61.9" y="274.4" width="4.25" height="4.23" fill="#dadada"/>
<rect x="65.55" y="274.4" width="4.25" height="4.23" fill="#dfdfdf"/>
<rect x="69.2" y="274.4" width="4.25" height="4.23" fill="#acacac"/>
<rect x="72.85" y="274.4" width="4.25" height="4.23" fill="#717171"/>
<rect x="76.5" y="274.4" width="4.25" height="4.23" fill="#5f5f5f"/>
<rect x="80.15" y="274.4" width="4.25" height="4.23" fill="#626262"/>
<rect x="83.8" y="274.4" width="4.25" height="4.23" fill="#4a4a4a"/>
<rect x="87.45" y="274.4" width="4.25" height="4.23" fill="#3e3e3e"/>
<rect x="91.1" y="274.4" width="4.25" height="4.23" fill="#414141"/>
<rect x="94.75" y="274.4" width="4.25" height="4.23" fill="#323232"/>
<rect x="98.4" y="274.4" width="4.25" height="4.23" fill="#101010"/>
<rect x="102.05" y="274.4" width="4.25" height="4.23" fill="#252525"/>
<rect x="105.7" y="274.4" width="4.25" height="4.23" fill="#444444"/>
<rect x="109.35" y="274.4" width="4.25" height="4.23" fill="#474747"/>
<rect x="40" y="278.03" width="4.25" height="4.23" fill="#383838"/>
<rect x="43.65" y="278.03" width="4.25" height="4.23" fill="#3e3e3e"/>
<rect x="47.3" y="278.03" width="4.25" height="4.23" fill="#838383"/>
<rect x="50.95" y="278.03" width="4.25" height="4.23" fill="#b0b0b0"/>
<rect x="54.6" y="278.03" width="4.25" height="4.23" fill="#e3e3e3"/>
<rect x="58.25" y="278.03" width="4.25" height="4.23" fill="#fafafa"/>
<rect x="61.9" y="278.03" width="4.25" height="4.23" fill="#bcbcbc"/>
<rect x="65.55" y="278.03" width="4.25" height="4.23" fill="#b0b0b0"/>
<rect x="69.2" y="278.03" width="4.25" height="4.23" fill="#b8b8b8"/>
<rect x="72.85" y="278.03" width="4.25" height="4.23" fill="#8c8c8c"/>
<rect x="76.5" y="278.03" width="4.25" height="4.23" fill="#7c7c7c"/>
<rect x="80.15" y="278.03" width="4.25" height="4.23" fill="#838383"/>
<rect x="83.8" y="278.03" width="4.25" height="4.23" fill="#5b5b5b"/>
<rect x="87.45" y="278.03" width="4.25" height="4.23" fill="#474747"/>
<rect x="91.1" y="278.03" width="4.25" height="4.23" fill="#3e3e3e"/>
<rect x="94.75" y="278.03" width="4.25" height="4.23" fill="#323232"/>
<rect x="98.4" y="278.03" width="4.25" height="4.23" fill="#121212"/>
<rect x="102.05" y="278.03" width="4.25" height="4.23" fill="#1a1a1a"/>
<rect x="105.7" y="278.03" width="4.25" height="4.23" fill="#222222"/>
<rect x="109.35" y="278.03" width="4.25" height="4.23" fill="#444444"/>
<rect x="40" y="281.67" width="4.25" height="4.23" fill="#383838"/>
<rect x="43.65" y="281.67" width="4.25" height="4.23" fill="#5b5b5b"/>
<rect x="47.3" y="281.67" width="4.25" height="4.23" fill="#717171"/>
<rect x="50.95" y="281.67" width="4.25" height="4.23" fill="#a3a3a3"/>
<rect x="54.6" y="281.67" width="4.25" height="4.23" fill="#9b9b9b"/>
<rect x="58.25" y="281.67" width="4.25" height="4.23" fill="#939393"/>
<rect x="61.9" y="281.67" width="4.25" height="4.23" fill="#9f9f9f"/>
<rect x="65.55" y="281.67" width="4.25" height="4.23" fill="#979797"/>
<rect x="69.2" y="281.67" width="4.25" height="4.23" fill="#909090"/>
<rect x="72.85" y="281.67" width="4.25" height="4.23" fill="#a3a3a3"/>
<rect x="76.5" y="281.67" width="4.25" height="4.23" fill="#7c7c7c"/>
<rect x="80.15" y="281.67" width="4.25" height="4.23" fill="#6e6e6e"/>
<rect x="83.8" y="281.67" width="4.25" height="4.23" fill="#626262"/>
<rect x="87.45" y="281.67" width="4.25" height="4.23" fill="#414141"/>
<rect x="91.1" y="281.67" width="4.25" height="4.23" fill="#3b3b3b"/>
<rect x="94.75" y="281.67" width="4.25" height="4.23" fill="#323232"/>
<rect x="98.4" y="281.67" width="4.25" height="4.23" fill="#272727"/>
<rect x="102.05" y="281.67" width="4.25" height="4.23" fill="#101010"/>
<rect x="105.7" y="281.67" width="4.25" height="4.23" fill="#2f2f2f"/>
<rect x="109.35" y="281.67" width="4.25" height="4.23" fill="#2a2a2a"/>
<rect x="40" y="285.3" width="4.25" height="4.23" fill="#525252"/>
<rect x="43.65" y="285.3" width="4.25" height="4.23" fill="#666666"/>
<rect x="47.3" y="285.3" width="4.25" height="4.23" fill="#808080"/>
<rect x="50.95" y="285.3" width="4.25" height="4.23" fill="#7c7c7c"/>
<rect x="54.6" y="285.3" width="4.25" height="4.23" fill="#787878"/>
<rect x="58.25" y="285.3" width="4.25" height="4.23" fill="#757575"/>
<rect x="61.9" y="285.3" width="4.25" height="4.23" fill="#717171"/>
<rect x="65.55" y="285.3" width="4.25" height="4.23" fill="#8c8c8c"/>
<rect x="69.2" y="285.3" width="4.25" height="4.23" fill="#a3a3a3"/>
<rect x="72.85" y="285.3" width="4.25" height="4.23" fill="#808080"/>
<rect x="76.5" y="285.3" width="4.25" height="4.23" fill="#7c7c7c"/>
<rect x="80.15" y="285.3" width="4.25" height="4.23" fill="#787878"/>
<rect x="83.8" y="285.3" width="4.25" height="4.23" fill="#757575"/>
<rect x="87.45" y="285.3" width="4.25" height="4.23" fill="#555555"/>
<rect x="91.1" y="285.3" width="4.25" height="4.23" fill="#383838"/>
<rect x="94.75" y="285.3" width="4.25" height="4.23" fill="#4a4a4a"/>
<rect x="98.4" y="285.3" width="4.25" height="4.23" fill="#1a1a1a"/>
<rect x="102.05" y="285.3" width="4.25" height="4.23" fill="#2c2c2c"/>
<rect x="105.7" y="285.3" width="4.25" height="4.23" fill="#161616"/>
<rect x="109.35" y="285.3" width="4.25" height="4.23" fill="#272727"/>
<rect x="40" y="288.93" width="4.25" height="4.23" fill="#acacac"/>
<rect x="43.65" y="288.93" width="4.25" height="4.23" fill="#525252"/>
<rect x="47.3" y="288.93" width="4.25" height="4.23" fill="#525252"/>
<rect x="50.95" y="288.93" width="4.25" height="4.23" fill="#6e6e6e"/>
<rect x="54.6" y="288.93" width="4.25" height="4.23" fill="#6e6e6e"/>
<rect x="58.25" y="288.93" width="4.25" height="4.23" fill="#757575"/>
<rect x="61.9" y="288.93" width="4.25" height="4.23" fill="#757575"/>
<rect x="65.55" y="288.93" width="4.25" height="4.23" fill="#939393"/>
<rect x="69.2" y="288.93" width="4.25" height="4.23" fill="#939393"/>
<rect x="72.85" y="288.93" width="4.25" height="4.23" fill="#939393"/>
<rect x="76.5" y="288.93" width="4.25" height="4.23" fill="#7c7c7c"/>
<rect x="80.15" y="288.93" width="4.25" height="4.23" fill="#7c7c7c"/>
<rect x="83.8" y="288.93" width="4.25" height="4.23" fill="#7c7c7c"/>
<rect x="87.45" y="288.93" width="4.25" height="4.23" fill="#5f5f5f"/>
<rect x="91.1" y="288.93" width="4.25" height="4.23" fill="#444444"/>
<rect x="94.75" y="288.93" width="4.25" height="4.23" fill="#4a4a4a"/>
<rect x="98.4" y="288.93" width="4.25" height="4.23" fill="#323232"/>
<rect x="102.05" y="288.93" width="4.25" height="4.23" fill="#323232"/>
<rect x="105.7" y="288.93" width="4.25" height="4.23" fill="#1d1d1d"/>
<rect x="109.35" y="288.93" width="4.25" height="4.23" fill="#323232"/>
<rect x="40" y="292.57" width="4.25" height="4.23" fill="#6e6e6e"/>
<rect x="43.65" y="292.57" width="4.25" height="4.23" fill="#717171"/>
<rect x="47.3" y="292.57" width="4.25" height="4.23" fill="#757575"/>
<rect x="50.95" y="292.57" width="4.25" height="4.23" fill="#808080"/>
<rect x="54.6" y="292.57" width="4.25" height="4.23" fill="#838383"/>
<rect x="58.25" y="292.57" width="4.25" height="4.23" fill="#757575"/>
<rect x="61.9" y="292.57" width="4.25" height="4.23" fill="#787878"/>
<rect x="65.55" y="292.57" width="4.25" height="4.23" fill="#9b9b9b"/>
<rect x="69.2" y="292.57" width="4.25" height="4.23" fill="#cecece"/>
<rect x="72.85" y="292.57" width="4.25" height="4.23" fill="#f6f6f6"/>
<rect x="76.5" y="292.57" width="4.25" height="4.23" fill="#ffffff"/>
<rect x="80.15" y="292.57" width="4.25" height="4.23" fill="#9f9f9f"/>
<rect x="83.8" y="292.57" width="4.25" height="4.23" fill="#838383"/>
<rect x="87.45" y="292.57" width="4.25" height="4.23" fill="#757575"/>
<rect x="91.1" y="292.57" width="4.25" height="4.23" fill="#5b5b5b"/>
<rect x="94.75" y="292.57" width="4.25" height="4.23" fill="#4a4a4a"/>
<rect x="98.4" y="292.57" width="4.25" height="4.23" fill="#383838"/>
<rect x="102.05" y="292.57" width="4.25" height="4.23" fill="#252525"/>
<rect x="105.7" y="292.57" width="4.25" height="4.23" fill="#2c2c2c"/>
<rect x="109.35" y="292.57" width="4.25" height="4.23" fill="#2f2f2f"/>
<rect x="40" y="296.2" width="4.25" height="4.23" fill="#6e6e6e"/>
<rect x="43.65" y="296.2" width="4.25" height="4.23" fill="#939393"/>
<rect x="47.3" y="296.2" width="4.25" height="4.23" fill="#838383"/>
<rect x="50.95" y="296.2" width="4.25" height="4.23" fill="#717171"/>
<rect x="54.6" y="296.2" width="4.25" height="4.23" fill="#808080"/>
<rect x="58.25" y="296.2" width="4.25" height="4.23" fill="#757575"/>
<rect x="61.9" y="296.2" width="4.25" height="4.23" fill="#7c7c7c"/>
<rect x="65.55" y="296.2" width="4.25" height="4.23" fill="#909090"/>
<rect x="69.2" y="296.2" width="4.25" height="4.23" fill="#b8b8b8"/>
<rect x="72.85" y="296.2" width="4.25" height="4.23" fill="#acacac"/>
<rect x="76.5" y="296.2" width="4.25" height="4.23" fill="#bcbcbc"/>
<rect x="80.15" y="296.2" width="4.25" height="4.23" fill="#a3a3a3"/>
<rect x="83.8" y="296.2" width="4.25" height="4.23" fill="#787878"/>
<rect x="87.45" y="296.2" width="4.25" height="4.23" fill="#808080"/>
<rect x="91.1" y="296.2" width="4.25" height="4.23" fill="#757575"/>
<rect x="94.75" y="296.2" width="4.25" height="4.23" fill="#666666"/>
<rect x="98.4" y="296.2" width="4.25" height="4.23" fill="#3b3b3b"/>
<rect x="102.05" y="296.2" width="4.25" height="4.23" fill="#474747"/>
<rect x="105.7" y="296.2" width="4.25" height="4.23" fill="#222222"/>
<rect x="109.35" y="296.2" width="4.25" height="4.23" fill="#2c2c2c"/>
<rect x="40" y="299.83" width="4.25" height="4.23" fill="#525252"/>
<rect x="43.65" y="299.83" width="4.25" height="4.23" fill="#5b5b5b"/>
<rect x="47.3" y="299.83" width="4.25" height="4.23" fill="#555555"/>
<rect x="50.95" y="299.83" width="4.25" height="4.23" fill="#666666"/>
<rect x="54.6" y="299.83" width="4.25" height="4.23" fill="#5f5f5f"/>
<rect x="58.25" y="299.83" width="4.25" height="4.23" fill="#585858"/>
<rect x="61.9" y="299.83" width="4.25" height="4.23" fill="#626262"/>
<rect x="65.55" y="299.83" width="4.25" height="4.23" fill="#5b5b5b"/>
<rect x="69.2" y="299.83" width="4.25" height="4.23" fill="#717171"/>
<rect x="72.85" y="299.83" width="4.25" height="4.23" fill="#838383"/>
<rect x="76.5" y="299.83" width="4.25" height="4.23" fill="#7c7c7c"/>
<rect x="80.15" y="299.83" width="4.25" height="4.23" fill="#6e6e6e"/>
<rect x="83.8" y="299.83" width="4.25" height="4.23" fill="#808080"/>
<rect x="87.45" y="299.83" width="4.25" height="4.23" fill="#787878"/>
<rect x="91.1" y="299.83" width="4.25" height="4.23" fill="#717171"/>
<rect x="94.75" y="299.83" width="4.25" height="4.23" fill="#838383"/>
<rect x="98.4" y="299.83" width="4.25" height="4.23" fill="#585858"/>
<rect x="102.05" y="299.83" width="4.25" height="4.23" fill="#383838"/>
<rect x="105.7" y="299.83" width="4.25" height="4.23" fill="#474747"/>
<rect x="109.35" y="299.83" width="4.25" height="4.23" fill="#414141"/>
<rect x="40" y="303.47" width="4.25" height="4.23" fill="#383838"/>
<rect x="43.65" y="303.47" width="4.25" height="4.23" fill="#4a4a4a"/>
<rect x="47.3" y="303.47" width="4.25" height="4.23" fill="#474747"/>
<rect x="50.95" y="303.47" width="4.25" height="4.23" fill="#444444"/>
<rect x="54.6" y="303.47" width="4.25" height="4.23" fill="#414141"/>
<rect x="58.25" y="303.47" width="4.25" height="4.23" fill="#3e3e3e"/>
<rect x="61.9" y="303.47" width="4.25" height="4.23" fill="#555555"/>
<rect x="65.55" y="303.47" width="4.25" height="4.23" fill="#383838"/>
<rect x="69.2" y="303.47" width="4.25" height="4.23" fill="#4a4a4a"/>
<rect x="72.85" y="303.47" width="4.25" height="4.23" fill="#474747"/>
<rect x="76.5" y="303.47" width="4.25" height="4.23" fill="#444444"/>
<rect x="80.15" y="303.47" width="4.25" height="4.23" fill="#414141"/>
<rect x="83.8" y="303.47" width="4.25" height="4.23" fill="#585858"/>
<rect x="87.45" y="303.47" width="4.25" height="4.23" fill="#555555"/>
<rect x="91.1" y="303.47" width="4.25" height="4.23" fill="#6e6e6e"/>
<rect x="94.75" y="303.47" width="4.25" height="4.23" fill="#838383"/>
<rect x="98.4" y="303.47" width="4.25" height="4.23" fill="#808080"/>
<rect x="102.05" y="303.47" width="4.25" height="4.23" fill="#5f5f5f"/>
<rect x="105.7" y="303.47" width="4.25" height="4.23" fill="#5b5b5b"/>
<rect x="109.35" y="303.47" width="4.25" height="4.23" fill="#585858"/>
<rect x="40" y="307.1" width="4.25" height="4.23" fill="#222222"/>
<rect x="43.65" y="307.1" width="4.25" height="4.23" fill="#222222"/>
<rect x="47.3" y="307.1" width="4.25" height="4.23" fill="#222222"/>
<rect x="50.95" y="307.1" width="4.25" height="4.23" fill="#101010"/>
<rect x="54.6" y="307.1" width="4.25" height="4.23" fill="#222222"/>
<rect x="58.25" y="307.1" width="4.25" height="4.23" fill="#3e3e3e"/>
<rect x="61.9" y="307.1" width="4.25" height="4.23" fill="#3e3e3e"/>
<rect x="65.55" y="307.1" width="4.25" height="4.23" fill="#3e3e3e"/>
<rect x="69.2" y="307.1" width="4.25" height="4.23" fill="#272727"/>
<rect x="72.85" y="307.1" width="4.25" height="4.23" fill="#272727"/>
<rect x="76.5" y="307.1" width="4.25" height="4.23" fill="#444444"/>
<rect x="80.15" y="307.1" width="4.25" height="4.23" fill="#444444"/>
<rect x="83.8" y="307.1" width="4.25" height="4.23" fill="#444444"/>
<rect x="87.45" y="307.1" width="4.25" height="4.23" fill="#444444"/>
<rect x="91.1" y="307.1" width="4.25" height="4.23" fill="#5f5f5f"/>
<rect x="94.75" y="307.1" width="4.25" height="4.23" fill="#838383"/>
<rect x="98.4" y="307.1" width="4.25" height="4.23" fill="#a3a3a3"/>
<rect x="102.05" y="307.1" width="4.25" height="4.23" fill="#a3a3a3"/>
<rect x="105.7" y="307.1" width="4.25" height="4.23" fill="#838383"/>
<rect x="109.35" y="307.1" width="4.25" height="4.23" fill="#a3a3a3"/>
<rect x="40" y="310.73" width="4.25" height="4.23" fill="#101010"/>
<rect x="43.65" y="310.73" width="4.25" height="4.23" fill="#252525"/>
<rect x="47.3" y="310.73" width="4.25" height="4.23" fill="#3e3e3e"/>
<rect x="50.95" y="310.73" width="4.25" height="4.23" fill="#474747"/>
<rect x="54.6" y="310.73" width="4.25" height="4.23" fill="#4a4a4a"/>
<rect x="58.25" y="310.73" width="4.25" height="4.23" fill="#3e3e3e"/>
<rect x="61.9" y="310.73" width="4.25" height="4.23" fill="#414141"/>
<rect x="65.55" y="310.73" width="4.25" height="4.23" fill="#2c2c2c"/>
<rect x="69.2" y="310.73" width="4.25" height="4.23" fill="#222222"/>
<rect x="72.85" y="310.73" width="4.25" height="4.23" fill="#252525"/>
<rect x="76.5" y="310.73" width="4.25" height="4.23" fill="#2c2c2c"/>
<rect x="80.15" y="310.73" width="4.25" height="4.23" fill="#2f2f2f"/>
<rect x="83.8" y="310.73" width="4.25" height="4.23" fill="#323232"/>
<rect x="87.45" y="310.73" width="4.25" height="4.23" fill="#3e3e3e"/>
<rect x="91.1" y="310.73" width="4.25" height="4.23" fill="#414141"/>
<rect x="94.75" y="310.73" width="4.25" height="4.23" fill="#666666"/>
<rect x="98.4" y="310.73" width="4.25" height="4.23" fill="#6e6e6e"/>
<rect x="102.05" y="310.73" width="4.25" height="4.23" fill="#909090"/>
<rect x="105.7" y="310.73" width="4.25" height="4.23" fill="#bcbcbc"/>
<rect x="109.35" y="310.73" width="4.25" height="4.23" fill="#c0c0c0"/>
<rect x="40" y="314.37" width="4.25" height="4.23" fill="#0a0a0a"/>
<rect x="43.65" y="314.37" width="4.25" height="4.23" fill="#141414"/>
<rect x="47.3" y="314.37" width="4.25" height="4.23" fill="#323232"/>
<rect x="50.95" y="314.37" width="4.25" height="4.23" fill="#252525"/>
<rect x="54.6" y="314.37" width="4.25" height="4.23" fill="#2f2f2f"/>
<rect x="58.25" y="314.37" width="4.25" height="4.23" fill="#272727"/>
<rect x="61.9" y="314.37" width="4.25" height="4.23" fill="#2c2c2c"/>
<rect x="65.55" y="314.37" width="4.25" height="4.23" fill="#121212"/>
<rect x="69.2" y="314.37" width="4.25" height="4.23" fill="#0a0a0a"/>
<rect x="72.85" y="314.37" width="4.25" height="4.23" fill="#0a0a0a"/>
<rect x="76.5" y="314.37" width="4.25" height="4.23" fill="#0a0a0a"/>
<rect x="80.15" y="314.37" width="4.25" height="4.23" fill="#0d0d0d"/>
<rect x="83.8" y="314.37" width="4.25" height="4.23" fill="#161616"/>
<rect x="87.45" y="314.37" width="4.25" height="4.23" fill="#1a1a1a"/>
<rect x="91.1" y="314.37" width="4.25" height="4.23" fill="#272727"/>
<rect x="94.75" y="314.37" width="4.25" height="4.23" fill="#4a4a4a"/>
<rect x="98.4" y="314.37" width="4.25" height="4.23" fill="#555555"/>
<rect x="102.05" y="314.37" width="4.25" height="4.23" fill="#9f9f9f"/>
<rect x="105.7" y="314.37" width="4.25" height="4.23" fill="#8c8c8c"/>
<rect x="109.35" y="314.37" width="4.25" height="4.23" fill="#bcbcbc"/>
</g>
<path d="M53.7 237C54.3 238.82 56.5 243.88 57.3 247.9C58.1 251.92 57.9 257.3 58.5 261.1C59.1 264.9 59.8 267.68 60.9 270.7C62 273.72 63.2 276.38 65.1 279.2C67 282.02 69.7 285.2 72.3 287.6C74.9 290 78.08 291.8 80.7 293.6C83.32 295.4 85.58 296.48 88 298.4C90.42 300.32 92.4 302.78 95.2 305.1C98 307.42 103.2 311.1 104.8 312.3" stroke="#f01818" stroke-width="1.1" fill="none"/>
<rect x="82" y="237" width="16.4" height="3" fill="#fff"/>
<text x="62" y="254" font-size="16" text-anchor="start" fill="#fff">0.5 µm</text>
<text x="59.4" y="335.6" font-size="17" text-anchor="middle" fill="#262626">4</text>
<text x="91.1" y="335.6" font-size="17" text-anchor="middle" fill="#262626">6</text>
<text x="122.8" y="335.6" font-size="17" text-anchor="middle" fill="#262626">8</text>
<text x="154.5" y="335.6" font-size="17" text-anchor="middle" fill="#262626">10</text>
<text x="186.2" y="335.6" font-size="17" text-anchor="middle" fill="#262626">12</text>
<text x="217.9" y="335.6" font-size="17" text-anchor="middle" fill="#262626">14</text>
<text x="249.6" y="335.6" font-size="17" text-anchor="middle" fill="#262626">16</text>
<text x="281.3" y="335.6" font-size="17" text-anchor="middle" fill="#262626">18</text>
<text x="37.2" y="77.3" font-size="17" text-anchor="end" fill="#262626">25</text>
<text x="37.2" y="128.6" font-size="17" text-anchor="end" fill="#262626">20</text>
<text x="37.2" y="179.9" font-size="17" text-anchor="end" fill="#262626">15</text>
<text x="37.2" y="231.3" font-size="17" text-anchor="end" fill="#262626">10</text>
<text x="37.2" y="282.6" font-size="17" text-anchor="end" fill="#262626">5</text>
<text x="163" y="354.8" font-size="17.5" text-anchor="middle" fill="#262626">x (pixels)</text>
<text transform="translate(14.3 184.6) rotate(-90)" font-size="17.5" text-anchor="middle" fill="#262626">y (pixels)</text>
<linearGradient id="ga" x1="0" y1="1" x2="0" y2="0">
<stop offset="0" stop-color="#352a87"/>
<stop offset="0.02" stop-color="#363093"/>
<stop offset="0.03" stop-color="#3637a0"/>
<stop offset="0.05" stop-color="#353dad"/>
<stop offset="0.06" stop-color="#3243ba"/>
<stop offset="0.08" stop-color="#2c4ac7"/>
<stop offset="0.1" stop-color="#2053d4"/>
<stop offset="0.11" stop-color="#0f5cdd"/>
<stop offset="0.13" stop-color="#0363e1"/>
<stop offset="0.14" stop-color="#0268e1"/>
<stop offset="0.16" stop-color="#046de0"/>
<stop offset="0.17" stop-color="#0871de"/>
<stop offset="0.19" stop-color="#0d75dc"/>
<stop offset="0.21" stop-color="#1079da"/>
<stop offset="0.22" stop-color="#127dd8"/>
<stop offset="0.24" stop-color="#1481d6"/>
<stop offset="0.25" stop-color="#1485d4"/>
<stop offset="0.27" stop-color="#1389d3"/>
<stop offset="0.29" stop-color="#108ed2"/>
<stop offset="0.3" stop-color="#0c93d2"/>
<stop offset="0.32" stop-color="#0998d1"/>
<stop offset="0.33" stop-color="#079ccf"/>
<stop offset="0.35" stop-color="#06a0cd"/>
<stop offset="0.37" stop-color="#06a4ca"/>
<stop offset="0.38" stop-color="#06a7c6"/>
<stop offset="0.4" stop-color="#07a9c2"/>
<stop offset="0.41" stop-color="#0aacbe"/>
<stop offset="0.43" stop-color="#0faeb9"/>
<stop offset="0.44" stop-color="#15b1b4"/>
<stop offset="0.46" stop-color="#1db3af"/>
<stop offset="0.48" stop-color="#25b5a9"/>
<stop offset="0.49" stop-color="#2eb7a4"/>
<stop offset="0.51" stop-color="#38b99e"/>
<stop offset="0.52" stop-color="#42bb98"/>
<stop offset="0.54" stop-color="#4dbc92"/>
<stop offset="0.56" stop-color="#59bd8c"/>
<stop offset="0.57" stop-color="#65be86"/>
<stop offset="0.59" stop-color="#71bf80"/>
<stop offset="0.6" stop-color="#7cbf7b"/>
<stop offset="0.62" stop-color="#87bf77"/>
<stop offset="0.63" stop-color="#92bf73"/>
<stop offset="0.65" stop-color="#9cbf6f"/>
<stop offset="0.67" stop-color="#a5be6b"/>
<stop offset="0.68" stop-color="#aebe67"/>
<stop offset="0.7" stop-color="#b7bd64"/>
<stop offset="0.71" stop-color="#c0bc60"/>
<stop offset="0.73" stop-color="#c8bc5d"/>
<stop offset="0.75" stop-color="#d1bb59"/>
<stop offset="0.76" stop-color="#d9ba56"/>
<stop offset="0.78" stop-color="#e1b952"/>
<stop offset="0.79" stop-color="#e9b94e"/>
<stop offset="0.81" stop-color="#f1b94a"/>
<stop offset="0.83" stop-color="#f8bb44"/>
<stop offset="0.84" stop-color="#fdbe3d"/>
<stop offset="0.86" stop-color="#ffc337"/>
<stop offset="0.87" stop-color="#fec832"/>
<stop offset="0.89" stop-color="#fcce2e"/>
<stop offset="0.9" stop-color="#fad32a"/>
<stop offset="0.92" stop-color="#f7d826"/>
<stop offset="0.94" stop-color="#f5de21"/>
<stop offset="0.95" stop-color="#f5e41d"/>
<stop offset="0.97" stop-color="#f5eb18"/>
<stop offset="0.98" stop-color="#f6f313"/>
<stop offset="1" stop-color="#f9fb0e"/>
</linearGradient>
<rect x="293.5" y="48.9" width="10" height="268.8" fill="url(#ga)" stroke="#333" stroke-width="0.6"/>
<text x="307" y="55.4" font-size="17" text-anchor="start" fill="#262626">40</text>
<text x="307" y="89" font-size="17" text-anchor="start" fill="#262626">35</text>
<path d="M303.5 82.5h-2.2M293.5 82.5h2.2" stroke="#333" stroke-width="0.6"/>
<text x="307" y="122.6" font-size="17" text-anchor="start" fill="#262626">30</text>
<path d="M303.5 116.1h-2.2M293.5 116.1h2.2" stroke="#333" stroke-width="0.6"/>
<text x="307" y="156.2" font-size="17" text-anchor="start" fill="#262626">25</text>
<path d="M303.5 149.7h-2.2M293.5 149.7h2.2" stroke="#333" stroke-width="0.6"/>
<text x="307" y="189.8" font-size="17" text-anchor="start" fill="#262626">20</text>
<path d="M303.5 183.3h-2.2M293.5 183.3h2.2" stroke="#333" stroke-width="0.6"/>
<text x="307" y="223.4" font-size="17" text-anchor="start" fill="#262626">15</text>
<path d="M303.5 216.9h-2.2M293.5 216.9h2.2" stroke="#333" stroke-width="0.6"/>
<text x="307" y="257" font-size="17" text-anchor="start" fill="#262626">10</text>
<path d="M303.5 250.5h-2.2M293.5 250.5h2.2" stroke="#333" stroke-width="0.6"/>
<text x="307" y="290.6" font-size="17" text-anchor="start" fill="#262626">5</text>
<path d="M303.5 284.1h-2.2M293.5 284.1h2.2" stroke="#333" stroke-width="0.6"/>
<text x="307" y="324.2" font-size="17" text-anchor="start" fill="#262626">0</text>
<text x="292.8" y="34.3" font-size="17.3" text-anchor="start" fill="#262626">Freq.</text>
<text x="5.5" y="29.8" font-size="41" text-anchor="start" font-weight="bold" fill="#111">a</text>
<rect x="440.3" y="59.9" width="259" height="257.1" fill="#cccccc"/>
<path d="M440.3 59.9V317H699.3" stroke="#555" stroke-width="0.9" fill="none"/>
<text x="463.5" y="333.2" font-size="17" text-anchor="middle" fill="#262626">4</text>
<text x="495.93" y="333.2" font-size="17" text-anchor="middle" fill="#262626">6</text>
<text x="528.36" y="333.2" font-size="17" text-anchor="middle" fill="#262626">8</text>
<text x="560.79" y="333.2" font-size="17" text-anchor="middle" fill="#262626">10</text>
<text x="593.22" y="333.2" font-size="17" text-anchor="middle" fill="#262626">12</text>
<text x="625.65" y="333.2" font-size="17" text-anchor="middle" fill="#262626">14</text>
<text x="658.08" y="333.2" font-size="17" text-anchor="middle" fill="#262626">16</text>
<text x="690.51" y="333.2" font-size="17" text-anchor="middle" fill="#262626">18</text>
<text x="437.6" y="85.4" font-size="17" text-anchor="end" fill="#262626">25</text>
<text x="437.6" y="135" font-size="17" text-anchor="end" fill="#262626">20</text>
<text x="437.6" y="184.5" font-size="17" text-anchor="end" fill="#262626">15</text>
<text x="437.6" y="234" font-size="17" text-anchor="end" fill="#262626">10</text>
<text x="437.6" y="283.5" font-size="17" text-anchor="end" fill="#262626">5</text>
<path d="M463.5 317v-2.6M495.93 317v-2.6M528.36 317v-2.6M560.79 317v-2.6M593.22 317v-2.6M625.65 317v-2.6M658.08 317v-2.6M690.51 317v-2.6M440.3 78.4h2.6M440.3 128h2.6M440.3 177.5h2.6M440.3 227h2.6M440.3 276.5h2.6" stroke="#666" stroke-width="0.7"/>
<text x="586.8" y="354.3" font-size="17.5" text-anchor="middle" fill="#262626">x (pixels)</text>
<text transform="translate(408.8 188.2) rotate(-90)" font-size="17.5" text-anchor="middle" fill="#262626">y (pixels)</text>
<linearGradient id="gb" x1="0" y1="1" x2="0" y2="0">
<stop offset="0" stop-color="#000080"/>
<stop offset="0.02" stop-color="#000090"/>
<stop offset="0.03" stop-color="#0000a0"/>
<stop offset="0.05" stop-color="#0000b0"/>
<stop offset="0.06" stop-color="#0000c0"/>
<stop offset="0.08" stop-color="#0000d0"/>
<stop offset="0.1" stop-color="#0000e1"/>
<stop offset="0.11" stop-color="#0000f1"/>
<stop offset="0.13" stop-color="#0002ff"/>
<stop offset="0.14" stop-color="#0012ff"/>
<stop offset="0.16" stop-color="#0022ff"/>
<stop offset="0.17" stop-color="#0033ff"/>
<stop offset="0.19" stop-color="#0043ff"/>
<stop offset="0.21" stop-color="#0053ff"/>
<stop offset="0.22" stop-color="#0063ff"/>
<stop offset="0.24" stop-color="#0073ff"/>
<stop offset="0.25" stop-color="#0084ff"/>
<stop offset="0.27" stop-color="#0094ff"/>
<stop offset="0.29" stop-color="#00a4ff"/>
<stop offset="0.3" stop-color="#00b4ff"/>
<stop offset="0.32" stop-color="#00c4ff"/>
<stop offset="0.33" stop-color="#00d4ff"/>
<stop offset="0.35" stop-color="#00e5ff"/>
<stop offset="0.37" stop-color="#00f5ff"/>
<stop offset="0.38" stop-color="#06fff9"/>
<stop offset="0.4" stop-color="#16ffe9"/>
<stop offset="0.41" stop-color="#26ffd9"/>
<stop offset="0.43" stop-color="#37ffc8"/>
<stop offset="0.44" stop-color="#47ffb8"/>
<stop offset="0.46" stop-color="#57ffa8"/>
<stop offset="0.48" stop-color="#67ff98"/>
<stop offset="0.49" stop-color="#77ff88"/>
<stop offset="0.51" stop-color="#88ff77"/>
<stop offset="0.52" stop-color="#98ff67"/>
<stop offset="0.54" stop-color="#a8ff57"/>
<stop offset="0.56" stop-color="#b8ff47"/>
<stop offset="0.57" stop-color="#c8ff37"/>
<stop offset="0.59" stop-color="#d9ff26"/>
<stop offset="0.6" stop-color="#e9ff16"/>
<stop offset="0.62" stop-color="#f9ff06"/>
<stop offset="0.63" stop-color="#fff500"/>
<stop offset="0.65" stop-color="#ffe500"/>
<stop offset="0.67" stop-color="#ffd500"/>
<stop offset="0.68" stop-color="#ffc400"/>
<stop offset="0.7" stop-color="#ffb400"/>
<stop offset="0.71" stop-color="#ffa400"/>
<stop offset="0.73" stop-color="#ff9400"/>
<stop offset="0.75" stop-color="#ff8400"/>
<stop offset="0.76" stop-color="#ff7300"/>
<stop offset="0.78" stop-color="#ff6300"/>
<stop offset="0.79" stop-color="#ff5300"/>
<stop offset="0.81" stop-color="#ff4300"/>
<stop offset="0.83" stop-color="#ff3300"/>
<stop offset="0.84" stop-color="#ff2200"/>
<stop offset="0.86" stop-color="#ff1200"/>
<stop offset="0.87" stop-color="#ff0200"/>
<stop offset="0.89" stop-color="#f10000"/>
<stop offset="0.9" stop-color="#e10000"/>
<stop offset="0.92" stop-color="#d00000"/>
<stop offset="0.94" stop-color="#c00000"/>
<stop offset="0.95" stop-color="#b00000"/>
<stop offset="0.97" stop-color="#a00000"/>
<stop offset="0.98" stop-color="#900000"/>
<stop offset="1" stop-color="#800000"/>
</linearGradient>
<rect x="704.9" y="59.9" width="13.1" height="257.1" fill="url(#gb)" stroke="#333" stroke-width="0.6"/>
<text x="721.5" y="72.2" font-size="17" text-anchor="start" fill="#262626">16</text>
<path d="M718 66.6h-2.2M704.9 66.6h2.2" stroke="#222" stroke-width="0.6"/>
<text x="721.5" y="105.3" font-size="17" text-anchor="start" fill="#262626">14</text>
<path d="M718 99.7h-2.2M704.9 99.7h2.2" stroke="#222" stroke-width="0.6"/>
<text x="721.5" y="138.4" font-size="17" text-anchor="start" fill="#262626">12</text>
<path d="M718 132.8h-2.2M704.9 132.8h2.2" stroke="#222" stroke-width="0.6"/>
<text x="721.5" y="171.5" font-size="17" text-anchor="start" fill="#262626">10</text>
<path d="M718 165.9h-2.2M704.9 165.9h2.2" stroke="#222" stroke-width="0.6"/>
<text x="721.5" y="204.6" font-size="17" text-anchor="start" fill="#262626">8</text>
<path d="M718 199h-2.2M704.9 199h2.2" stroke="#222" stroke-width="0.6"/>
<text x="721.5" y="237.7" font-size="17" text-anchor="start" fill="#262626">6</text>
<path d="M718 232.1h-2.2M704.9 232.1h2.2" stroke="#222" stroke-width="0.6"/>
<text x="721.5" y="270.8" font-size="17" text-anchor="start" fill="#262626">4</text>
<path d="M718 265.2h-2.2M704.9 265.2h2.2" stroke="#222" stroke-width="0.6"/>
<text x="721.5" y="303.9" font-size="17" text-anchor="start" fill="#262626">2</text>
<path d="M718 298.3h-2.2M704.9 298.3h2.2" stroke="#222" stroke-width="0.6"/>
<text x="676.5" y="49.8" font-size="17.3" fill="#262626">Var (pix<tspan font-size="10" dy="-7">2</tspan><tspan dy="7">)</tspan></text>
<text x="400.5" y="30.6" font-size="41" text-anchor="start" font-weight="bold" fill="#111">b</text>
<linearGradient id="lb0" gradientUnits="userSpaceOnUse" x1="545.4" y1="88.5" x2="545.8" y2="97.8"><stop offset="0" stop-color="#800000"/><stop offset="1" stop-color="#c70000"/></linearGradient>
<path d="M545.4 88.5L545.81 97.81" stroke="url(#lb0)" stroke-width="1.5"/>
<linearGradient id="lb1" gradientUnits="userSpaceOnUse" x1="545.8" y1="97.8" x2="546.2" y2="107.3"><stop offset="0" stop-color="#c70000"/><stop offset="1" stop-color="#ff0500"/></linearGradient>
<path d="M545.8 97.8L546.21 107.31" stroke="url(#lb1)" stroke-width="1.5"/>
<linearGradient id="lb2" gradientUnits="userSpaceOnUse" x1="546.2" y1="107.3" x2="546.6" y2="116.6"><stop offset="0" stop-color="#ff0500"/><stop offset="1" stop-color="#ff5700"/></linearGradient>
<path d="M546.2 107.3L546.61 116.61" stroke="url(#lb2)" stroke-width="1.5"/>
<linearGradient id="lb3" gradientUnits="userSpaceOnUse" x1="546.6" y1="116.6" x2="546.6" y2="126.1"><stop offset="0" stop-color="#ff5700"/><stop offset="1" stop-color="#ff9e00"/></linearGradient>
<path d="M546.6 116.6L546.61 126.11" stroke="url(#lb3)" stroke-width="1.5"/>
<linearGradient id="lb4" gradientUnits="userSpaceOnUse" x1="546.6" y1="126.1" x2="546.6" y2="135.6"><stop offset="0" stop-color="#ff9e00"/><stop offset="1" stop-color="#fff000"/></linearGradient>
<path d="M546.6 126.1L546.61 135.61" stroke="url(#lb4)" stroke-width="1.5"/>
<linearGradient id="lb5" gradientUnits="userSpaceOnUse" x1="546.6" y1="135.6" x2="546.3" y2="145.1"><stop offset="0" stop-color="#fff000"/><stop offset="1" stop-color="#dbff24"/></linearGradient>
<path d="M546.6 135.6L546.31 145.11" stroke="url(#lb5)" stroke-width="1.5"/>
<linearGradient id="lb6" gradientUnits="userSpaceOnUse" x1="546.3" y1="145.1" x2="546.3" y2="154.6"><stop offset="0" stop-color="#dbff24"/><stop offset="1" stop-color="#94ff6b"/></linearGradient>
<path d="M546.3 145.1L546.31 154.61" stroke="url(#lb6)" stroke-width="1.5"/>
<linearGradient id="lb7" gradientUnits="userSpaceOnUse" x1="546.3" y1="154.6" x2="546.6" y2="164.1"><stop offset="0" stop-color="#94ff6b"/><stop offset="1" stop-color="#4dffb2"/></linearGradient>
<path d="M546.3 154.6L546.61 164.11" stroke="url(#lb7)" stroke-width="1.5"/>
<linearGradient id="lb8" gradientUnits="userSpaceOnUse" x1="546.6" y1="164.1" x2="547.5" y2="173.6"><stop offset="0" stop-color="#4dffb2"/><stop offset="1" stop-color="#05fffa"/></linearGradient>
<path d="M546.6 164.1L547.51 173.61" stroke="url(#lb8)" stroke-width="1.5"/>
<linearGradient id="lb9" gradientUnits="userSpaceOnUse" x1="547.5" y1="173.6" x2="549.8" y2="183.2"><stop offset="0" stop-color="#05fffa"/><stop offset="1" stop-color="#00bdff"/></linearGradient>
<path d="M547.5 173.6L549.81 183.21" stroke="url(#lb9)" stroke-width="1.5"/>
<linearGradient id="lb10" gradientUnits="userSpaceOnUse" x1="549.8" y1="183.2" x2="553.6" y2="192.3"><stop offset="0" stop-color="#00bdff"/><stop offset="1" stop-color="#0094ff"/></linearGradient>
<path d="M549.8 183.2L553.61 192.31" stroke="url(#lb10)" stroke-width="1.5"/>
<linearGradient id="lb11" gradientUnits="userSpaceOnUse" x1="553.6" y1="192.3" x2="558.1" y2="201.3"><stop offset="0" stop-color="#0094ff"/><stop offset="1" stop-color="#0061ff"/></linearGradient>
<path d="M553.6 192.3L558.11 201.31" stroke="url(#lb11)" stroke-width="1.5"/>
<linearGradient id="lb12" gradientUnits="userSpaceOnUse" x1="558.1" y1="201.3" x2="564.3" y2="209.9"><stop offset="0" stop-color="#0061ff"/><stop offset="1" stop-color="#0038ff"/></linearGradient>
<path d="M558.1 201.3L564.31 209.91" stroke="url(#lb12)" stroke-width="1.5"/>
<linearGradient id="lb13" gradientUnits="userSpaceOnUse" x1="564.3" y1="209.9" x2="571.6" y2="218.7"><stop offset="0" stop-color="#0038ff"/><stop offset="1" stop-color="#001aff"/></linearGradient>
<path d="M564.3 209.9L571.61 218.71" stroke="url(#lb13)" stroke-width="1.5"/>
<linearGradient id="lb14" gradientUnits="userSpaceOnUse" x1="571.6" y1="218.7" x2="579.1" y2="226.6"><stop offset="0" stop-color="#001aff"/><stop offset="1" stop-color="#0005ff"/></linearGradient>
<path d="M571.6 218.7L579.11 226.61" stroke="url(#lb14)" stroke-width="1.5"/>
<linearGradient id="lb15" gradientUnits="userSpaceOnUse" x1="579.1" y1="226.6" x2="587.9" y2="234.3"><stop offset="0" stop-color="#0005ff"/><stop offset="1" stop-color="#0000f0"/></linearGradient>
<path d="M579.1 226.6L587.91 234.31" stroke="url(#lb15)" stroke-width="1.5"/>
<linearGradient id="lb16" gradientUnits="userSpaceOnUse" x1="587.9" y1="234.3" x2="597.6" y2="241.9"><stop offset="0" stop-color="#0000f0"/><stop offset="1" stop-color="#0000e6"/></linearGradient>
<path d="M587.9 234.3L597.61 241.91" stroke="url(#lb16)" stroke-width="1.5"/>
<linearGradient id="lb17" gradientUnits="userSpaceOnUse" x1="597.6" y1="241.9" x2="608.3" y2="249.1"><stop offset="0" stop-color="#0000e6"/><stop offset="1" stop-color="#0000db"/></linearGradient>
<path d="M597.6 241.9L608.31 249.11" stroke="url(#lb17)" stroke-width="1.5"/>
<linearGradient id="lb18" gradientUnits="userSpaceOnUse" x1="608.3" y1="249.1" x2="619.7" y2="255.8"><stop offset="0" stop-color="#0000db"/><stop offset="1" stop-color="#0000d1"/></linearGradient>
<path d="M608.3 249.1L619.71 255.81" stroke="url(#lb18)" stroke-width="1.5"/>
<linearGradient id="lb19" gradientUnits="userSpaceOnUse" x1="619.7" y1="255.8" x2="630.2" y2="262.9"><stop offset="0" stop-color="#0000d1"/><stop offset="1" stop-color="#0000c7"/></linearGradient>
<path d="M619.7 255.8L630.21 262.91" stroke="url(#lb19)" stroke-width="1.5"/>
<linearGradient id="lb20" gradientUnits="userSpaceOnUse" x1="630.2" y1="262.9" x2="640.5" y2="269.9"><stop offset="0" stop-color="#0000c7"/><stop offset="1" stop-color="#0000bd"/></linearGradient>
<path d="M630.2 262.9L640.51 269.91" stroke="url(#lb20)" stroke-width="1.5"/>
<linearGradient id="lb21" gradientUnits="userSpaceOnUse" x1="640.5" y1="269.9" x2="649.5" y2="277.7"><stop offset="0" stop-color="#0000bd"/><stop offset="1" stop-color="#0000b2"/></linearGradient>
<path d="M640.5 269.9L649.51 277.71" stroke="url(#lb21)" stroke-width="1.5"/>
<linearGradient id="lb22" gradientUnits="userSpaceOnUse" x1="649.5" y1="277.7" x2="658" y2="285.8"><stop offset="0" stop-color="#0000b2"/><stop offset="1" stop-color="#0000a8"/></linearGradient>
<path d="M649.5 277.7L658.01 285.81" stroke="url(#lb22)" stroke-width="1.5"/>
<linearGradient id="lb23" gradientUnits="userSpaceOnUse" x1="658" y1="285.8" x2="666.2" y2="293.8"><stop offset="0" stop-color="#0000a8"/><stop offset="1" stop-color="#000099"/></linearGradient>
<path d="M658 285.8L666.21 293.81" stroke="url(#lb23)" stroke-width="1.5"/>
<linearGradient id="lb24" gradientUnits="userSpaceOnUse" x1="666.2" y1="293.8" x2="674.6" y2="302.1"><stop offset="0" stop-color="#000099"/><stop offset="1" stop-color="#00008a"/></linearGradient>
<path d="M666.2 293.8L674.61 302.11" stroke="url(#lb24)" stroke-width="1.5"/>
<circle cx="545.4" cy="88.5" r="3" fill="#800000"/>
<circle cx="545.8" cy="97.8" r="3" fill="#c70000"/>
<circle cx="546.2" cy="107.3" r="3" fill="#ff0500"/>
<circle cx="546.6" cy="116.6" r="3" fill="#ff5700"/>
<circle cx="546.6" cy="126.1" r="3" fill="#ff9e00"/>
<circle cx="546.6" cy="135.6" r="3" fill="#fff000"/>
<circle cx="546.3" cy="145.1" r="3" fill="#dbff24"/>
<circle cx="546.3" cy="154.6" r="3" fill="#94ff6b"/>
<circle cx="546.6" cy="164.1" r="3" fill="#4dffb2"/>
<circle cx="547.5" cy="173.6" r="3" fill="#05fffa"/>
<circle cx="549.8" cy="183.2" r="3" fill="#00bdff"/>
<circle cx="553.6" cy="192.3" r="3" fill="#0094ff"/>
<circle cx="558.1" cy="201.3" r="3" fill="#0061ff"/>
<circle cx="564.3" cy="209.9" r="3" fill="#0038ff"/>
<circle cx="571.6" cy="218.7" r="3" fill="#001aff"/>
<circle cx="579.1" cy="226.6" r="3" fill="#0005ff"/>
<circle cx="587.9" cy="234.3" r="3" fill="#0000f0"/>
<circle cx="597.6" cy="241.9" r="3" fill="#0000e6"/>
<circle cx="608.3" cy="249.1" r="3" fill="#0000db"/>
<circle cx="619.7" cy="255.8" r="3" fill="#0000d1"/>
<circle cx="630.2" cy="262.9" r="3" fill="#0000c7"/>
<circle cx="640.5" cy="269.9" r="3" fill="#0000bd"/>
<circle cx="649.5" cy="277.7" r="3" fill="#0000b2"/>
<circle cx="658" cy="285.8" r="3" fill="#0000a8"/>
<circle cx="666.2" cy="293.8" r="3" fill="#000099"/>
<circle cx="674.6" cy="302.1" r="3" fill="#00008a"/>
<path d="M587.9 234.3L584.99 234.94" stroke="#111" stroke-width="0.9"/>
<path d="M580.1 236L584.54 232.88L585.43 236.99z" fill="#111"/>
<path d="M597.6 241.9L594.69 242.54" stroke="#111" stroke-width="0.9"/>
<path d="M589.8 243.6L594.24 240.48L595.13 244.59z" fill="#111"/>
<path d="M608.3 249.1L605.39 249.74" stroke="#111" stroke-width="0.9"/>
<path d="M600.5 250.8L604.94 247.68L605.83 251.79z" fill="#111"/>
<path d="M619.7 255.8L616.79 256.44" stroke="#111" stroke-width="0.9"/>
<path d="M611.9 257.5L616.34 254.38L617.23 258.49z" fill="#111"/>
<path d="M630.2 262.9L627.29 263.54" stroke="#111" stroke-width="0.9"/>
<path d="M622.4 264.6L626.84 261.48L627.73 265.59z" fill="#111"/>
<path d="M640.5 269.9L637.59 270.54" stroke="#111" stroke-width="0.9"/>
<path d="M632.7 271.6L637.14 268.48L638.03 272.59z" fill="#111"/>
<clipPath id="cc"><rect x="45.7" y="437.4" width="203.8" height="322.9"/></clipPath>
<g clip-path="url(#cc)">
<rect x="45.7" y="437.4" width="203.8" height="322.9" fill="#352a87"/>
<path d="M208.74 447.18h13.59v9.78h-13.59zM127.22 456.97h13.59v9.78h-13.59zM222.33 476.54h13.59v9.78h-13.59zM222.33 486.32h13.59v9.78h-13.59zM222.33 496.11h13.59v9.78h-13.59zM222.33 505.89h13.59v9.78h-13.59zM222.33 515.68h13.59v9.78h-13.59zM208.74 525.46h13.59v9.78h-13.59zM113.63 535.25h13.59v9.78h-13.59zM222.33 535.25h13.59v9.78h-13.59zM208.74 545.03h13.59v9.78h-13.59zM208.74 554.82h13.59v9.78h-13.59zM100.05 574.39h13.59v9.78h-13.59zM195.15 574.39h13.59v9.78h-13.59zM100.05 584.17h13.59v9.78h-13.59zM195.15 584.17h13.59v9.78h-13.59zM181.57 593.96h13.59v9.78h-13.59zM100.05 603.74h13.59v9.78h-13.59zM195.15 603.74h13.59v9.78h-13.59zM195.15 623.31h13.59v9.78h-13.59zM181.57 642.88h13.59v9.78h-13.59zM195.15 652.67h13.59v9.78h-13.59zM181.57 662.45h13.59v9.78h-13.59zM195.15 672.24h13.59v9.78h-13.59zM100.05 691.81h13.59v9.78h-13.59zM181.57 691.81h13.59v9.78h-13.59zM100.05 701.59h13.59v9.78h-13.59zM181.57 701.59h13.59v9.78h-13.59zM100.05 711.38h13.59v9.78h-13.59zM181.57 711.38h13.59v9.78h-13.59zM100.05 721.16h13.59v9.78h-13.59zM181.57 721.16h13.59v9.78h-13.59zM100.05 730.95h13.59v9.78h-13.59zM181.57 730.95h13.59v9.78h-13.59zM100.05 740.73h13.59v9.78h-13.59zM113.63 750.52h13.59v9.78h-13.59z" fill="#36349b"/>
<path d="M195.15 447.18h13.59v9.78h-13.59zM127.22 476.54h13.59v9.78h-13.59zM208.74 476.54h13.59v9.78h-13.59zM140.81 486.32h13.59v9.78h-13.59zM208.74 496.11h13.59v9.78h-13.59zM208.74 505.89h13.59v9.78h-13.59zM208.74 515.68h13.59v9.78h-13.59zM195.15 525.46h13.59v9.78h-13.59zM195.15 535.25h27.17v9.78h-27.17zM113.63 545.03h13.59v9.78h-13.59zM195.15 545.03h13.59v9.78h-13.59zM113.63 554.82h13.59v9.78h-13.59zM195.15 554.82h13.59v9.78h-13.59zM113.63 564.6h13.59v9.78h-13.59zM195.15 564.6h27.17v9.78h-27.17zM113.63 574.39h13.59v9.78h-13.59zM181.57 603.74h13.59v9.78h-13.59zM100.05 613.53h13.59v9.78h-13.59zM181.57 613.53h27.17v9.78h-27.17zM100.05 623.31h13.59v9.78h-13.59zM181.57 623.31h13.59v9.78h-13.59zM100.05 633.1h13.59v9.78h-13.59zM181.57 633.1h27.17v9.78h-27.17zM100.05 642.88h13.59v9.78h-13.59zM100.05 662.45h13.59v9.78h-13.59zM181.57 672.24h13.59v9.78h-13.59zM100.05 682.02h13.59v9.78h-13.59zM181.57 682.02h13.59v9.78h-13.59zM167.98 711.38h13.59v9.78h-13.59zM113.63 740.73h13.59v9.78h-13.59zM167.98 740.73h13.59v9.78h-13.59zM167.98 750.52h13.59v9.78h-13.59z" fill="#353eaf"/>
<path d="M127.22 447.18h13.59v9.78h-13.59zM140.81 456.97h13.59v9.78h-13.59zM222.33 456.97h13.59v9.78h-13.59zM127.22 466.75h13.59v9.78h-13.59zM222.33 466.75h27.17v9.78h-27.17zM127.22 486.32h13.59v9.78h-13.59zM154.39 486.32h13.59v9.78h-13.59zM127.22 505.89h40.76v9.78h-40.76zM181.57 545.03h13.59v9.78h-13.59zM181.57 574.39h13.59v9.78h-13.59zM167.98 593.96h13.59v9.78h-13.59zM113.63 623.31h13.59v9.78h-13.59zM167.98 623.31h13.59v9.78h-13.59zM100.05 652.67h13.59v9.78h-13.59zM167.98 652.67h13.59v9.78h-13.59zM167.98 662.45h13.59v9.78h-13.59zM100.05 672.24h13.59v9.78h-13.59zM167.98 691.81h13.59v9.78h-13.59zM113.63 701.59h13.59v9.78h-13.59zM167.98 701.59h13.59v9.78h-13.59zM113.63 721.16h13.59v9.78h-13.59zM167.98 721.16h13.59v9.78h-13.59zM113.63 730.95h13.59v9.78h-13.59zM167.98 730.95h13.59v9.78h-13.59zM127.22 750.52h13.59v9.78h-13.59z" fill="#274dcb"/>
<path d="M154.39 456.97h27.17v9.78h-27.17zM208.74 456.97h13.59v9.78h-13.59zM195.15 476.54h13.59v9.78h-13.59zM167.98 486.32h13.59v9.78h-13.59zM208.74 486.32h13.59v9.78h-13.59zM127.22 525.46h13.59v9.78h-13.59zM127.22 535.25h13.59v9.78h-13.59zM167.98 545.03h13.59v9.78h-13.59zM127.22 554.82h13.59v9.78h-13.59zM181.57 554.82h13.59v9.78h-13.59zM181.57 564.6h13.59v9.78h-13.59zM113.63 584.17h13.59v9.78h-13.59zM181.57 584.17h13.59v9.78h-13.59zM113.63 593.96h13.59v9.78h-13.59zM113.63 603.74h13.59v9.78h-13.59zM167.98 603.74h13.59v9.78h-13.59zM113.63 613.53h13.59v9.78h-13.59zM167.98 642.88h13.59v9.78h-13.59zM181.57 652.67h13.59v9.78h-13.59zM113.63 662.45h13.59v9.78h-13.59zM113.63 672.24h13.59v9.78h-13.59zM167.98 672.24h13.59v9.78h-13.59zM167.98 682.02h13.59v9.78h-13.59z" fill="#0267e1"/>
<path d="M167.98 447.18h27.17v9.78h-27.17zM167.98 466.75h13.59v9.78h-13.59zM154.39 515.68h13.59v9.78h-13.59zM195.15 515.68h13.59v9.78h-13.59zM181.57 525.46h13.59v9.78h-13.59zM140.81 554.82h13.59v9.78h-13.59zM127.22 574.39h13.59v9.78h-13.59zM167.98 574.39h13.59v9.78h-13.59zM127.22 603.74h13.59v9.78h-13.59zM167.98 613.53h13.59v9.78h-13.59zM127.22 623.31h13.59v9.78h-13.59zM167.98 633.1h13.59v9.78h-13.59zM113.63 642.88h13.59v9.78h-13.59zM113.63 652.67h13.59v9.78h-13.59zM113.63 682.02h13.59v9.78h-13.59zM113.63 691.81h13.59v9.78h-13.59zM113.63 711.38h13.59v9.78h-13.59zM127.22 740.73h13.59v9.78h-13.59zM154.39 750.52h13.59v9.78h-13.59z" fill="#0f77db"/>
<path d="M181.57 456.97h13.59v9.78h-13.59zM140.81 466.75h13.59v9.78h-13.59zM140.81 476.54h54.35v9.78h-54.35zM127.22 496.11h13.59v9.78h-13.59zM167.98 496.11h40.76v9.78h-40.76zM195.15 505.89h13.59v9.78h-13.59zM167.98 515.68h13.59v9.78h-13.59zM140.81 535.25h13.59v9.78h-13.59zM154.39 564.6h27.17v9.78h-27.17zM154.39 584.17h13.59v9.78h-13.59zM154.39 603.74h13.59v9.78h-13.59zM113.63 633.1h13.59v9.78h-13.59zM154.39 642.88h13.59v9.78h-13.59zM127.22 652.67h13.59v9.78h-13.59zM127.22 721.16h13.59v9.78h-13.59zM154.39 721.16h13.59v9.78h-13.59zM154.39 740.73h13.59v9.78h-13.59z" fill="#1389d3"/>
<path d="M140.81 447.18h13.59v9.78h-13.59zM195.15 456.97h13.59v9.78h-13.59zM154.39 466.75h13.59v9.78h-13.59zM208.74 466.75h13.59v9.78h-13.59zM167.98 505.89h13.59v9.78h-13.59zM127.22 515.68h13.59v9.78h-13.59zM154.39 535.25h13.59v9.78h-13.59zM127.22 545.03h13.59v9.78h-13.59zM154.39 554.82h27.17v9.78h-27.17zM154.39 574.39h13.59v9.78h-13.59zM127.22 584.17h13.59v9.78h-13.59zM167.98 584.17h13.59v9.78h-13.59zM127.22 593.96h13.59v9.78h-13.59zM154.39 593.96h13.59v9.78h-13.59zM154.39 613.53h13.59v9.78h-13.59zM154.39 623.31h13.59v9.78h-13.59zM127.22 633.1h13.59v9.78h-13.59zM154.39 633.1h13.59v9.78h-13.59zM127.22 642.88h13.59v9.78h-13.59zM140.81 652.67h27.17v9.78h-27.17zM154.39 662.45h13.59v9.78h-13.59zM127.22 672.24h13.59v9.78h-13.59zM154.39 672.24h13.59v9.78h-13.59zM127.22 682.02h13.59v9.78h-13.59zM154.39 682.02h13.59v9.78h-13.59zM127.22 701.59h13.59v9.78h-13.59zM154.39 701.59h13.59v9.78h-13.59zM154.39 711.38h13.59v9.78h-13.59zM127.22 730.95h13.59v9.78h-13.59zM140.81 750.52h13.59v9.78h-13.59z" fill="#069ece"/>
<path d="M154.39 447.18h13.59v9.78h-13.59zM181.57 466.75h13.59v9.78h-13.59zM181.57 486.32h27.17v9.78h-27.17zM154.39 496.11h13.59v9.78h-13.59zM140.81 525.46h27.17v9.78h-27.17zM167.98 535.25h27.17v9.78h-27.17zM154.39 545.03h13.59v9.78h-13.59zM140.81 603.74h13.59v9.78h-13.59zM140.81 672.24h13.59v9.78h-13.59zM154.39 691.81h13.59v9.78h-13.59zM154.39 730.95h13.59v9.78h-13.59zM140.81 740.73h13.59v9.78h-13.59z" fill="#07aac1"/>
<path d="M181.57 505.89h13.59v9.78h-13.59zM167.98 525.46h13.59v9.78h-13.59zM127.22 564.6h13.59v9.78h-13.59zM140.81 584.17h13.59v9.78h-13.59zM140.81 623.31h13.59v9.78h-13.59zM127.22 662.45h13.59v9.78h-13.59zM127.22 691.81h13.59v9.78h-13.59zM127.22 711.38h13.59v9.78h-13.59z" fill="#18b1b2"/>
<path d="M195.15 466.75h13.59v9.78h-13.59zM140.81 515.68h13.59v9.78h-13.59zM181.57 515.68h13.59v9.78h-13.59zM140.81 633.1h13.59v9.78h-13.59z" fill="#33b8a1"/>
<path d="M140.81 496.11h13.59v9.78h-13.59zM140.81 574.39h13.59v9.78h-13.59zM140.81 701.59h13.59v9.78h-13.59z" fill="#55bd8e"/>
<path d="M127.22 613.53h13.59v9.78h-13.59z" fill="#7abf7c"/>
<path d="M140.81 691.81h13.59v9.78h-13.59zM140.81 721.16h13.59v9.78h-13.59z" fill="#9bbf6f"/>
<path d="M140.81 564.6h13.59v9.78h-13.59zM140.81 613.53h13.59v9.78h-13.59zM140.81 642.88h13.59v9.78h-13.59zM140.81 682.02h13.59v9.78h-13.59z" fill="#b8bd63"/>
<path d="M140.81 662.45h13.59v9.78h-13.59z" fill="#ecb94c"/>
<path d="M140.81 545.03h13.59v9.78h-13.59zM140.81 593.96h13.59v9.78h-13.59zM140.81 711.38h13.59v9.78h-13.59z" fill="#fec13a"/>
<path d="M140.81 730.95h13.59v9.78h-13.59z" fill="#f9fb0e"/>
<path d="M45.7 437.4V760.3M59.29 437.4V760.3M72.87 437.4V760.3M86.46 437.4V760.3M100.05 437.4V760.3M113.63 437.4V760.3M127.22 437.4V760.3M140.81 437.4V760.3M154.39 437.4V760.3M167.98 437.4V760.3M181.57 437.4V760.3M195.15 437.4V760.3M208.74 437.4V760.3M222.33 437.4V760.3M235.91 437.4V760.3M249.5 437.4V760.3M45.7 437.4H249.5M45.7 447.18H249.5M45.7 456.97H249.5M45.7 466.75H249.5M45.7 476.54H249.5M45.7 486.32H249.5M45.7 496.11H249.5M45.7 505.89H249.5M45.7 515.68H249.5M45.7 525.46H249.5M45.7 535.25H249.5M45.7 545.03H249.5M45.7 554.82H249.5M45.7 564.6H249.5M45.7 574.39H249.5M45.7 584.17H249.5M45.7 593.96H249.5M45.7 603.74H249.5M45.7 613.53H249.5M45.7 623.31H249.5M45.7 633.1H249.5M45.7 642.88H249.5M45.7 652.67H249.5M45.7 662.45H249.5M45.7 672.24H249.5M45.7 682.02H249.5M45.7 691.81H249.5M45.7 701.59H249.5M45.7 711.38H249.5M45.7 721.16H249.5M45.7 730.95H249.5M45.7 740.73H249.5M45.7 750.52H249.5M45.7 760.3H249.5" stroke="#000" stroke-width="0.7" stroke-opacity="0.9" fill="none"/>
</g>
<path d="M44.9 437.4V760.6H249.5" stroke="#c4c4c8" stroke-width="1.3" fill="none"/>
<path d="M45.7 574.39H249.5M45.7 623.31H249.5" stroke="#000" stroke-width="0.95"/>
<path d="M72.87 437.4V760.3M100.05 437.4V760.3" stroke="#000" stroke-width="0.85"/>
<g filter="url(#blC)" shape-rendering="crispEdges"><rect x="46" y="670" width="58" height="90.3" fill="#050505"/>
<rect x="65.33" y="670" width="7.04" height="7.05" fill="#323232"/>
<rect x="71.78" y="670" width="7.04" height="7.05" fill="#484848"/>
<rect x="78.22" y="670" width="7.04" height="7.05" fill="#5e5e5e"/>
<rect x="84.67" y="670" width="7.04" height="7.05" fill="#5e5e5e"/>
<rect x="91.11" y="670" width="7.04" height="7.05" fill="#323232"/>
<rect x="97.56" y="670" width="7.04" height="7.05" fill="#1c1c1c"/>
<rect x="65.33" y="676.45" width="7.04" height="7.05" fill="#323232"/>
<rect x="71.78" y="676.45" width="7.04" height="7.05" fill="#484848"/>
<rect x="78.22" y="676.45" width="7.04" height="7.05" fill="#5e5e5e"/>
<rect x="84.67" y="676.45" width="7.04" height="7.05" fill="#5e5e5e"/>
<rect x="91.11" y="676.45" width="7.04" height="7.05" fill="#1c1c1c"/>
<rect x="97.56" y="676.45" width="7.04" height="7.05" fill="#1c1c1c"/>
<rect x="65.33" y="682.9" width="7.04" height="7.05" fill="#323232"/>
<rect x="71.78" y="682.9" width="7.04" height="7.05" fill="#484848"/>
<rect x="78.22" y="682.9" width="7.04" height="7.05" fill="#747474"/>
<rect x="84.67" y="682.9" width="7.04" height="7.05" fill="#5e5e5e"/>
<rect x="91.11" y="682.9" width="7.04" height="7.05" fill="#1c1c1c"/>
<rect x="65.33" y="689.35" width="7.04" height="7.05" fill="#323232"/>
<rect x="71.78" y="689.35" width="7.04" height="7.05" fill="#484848"/>
<rect x="78.22" y="689.35" width="7.04" height="7.05" fill="#484848"/>
<rect x="84.67" y="689.35" width="7.04" height="7.05" fill="#484848"/>
<rect x="65.33" y="695.8" width="7.04" height="7.05" fill="#1c1c1c"/>
<rect x="71.78" y="695.8" width="7.04" height="7.05" fill="#323232"/>
<rect x="78.22" y="695.8" width="7.04" height="7.05" fill="#5e5e5e"/>
<rect x="84.67" y="695.8" width="7.04" height="7.05" fill="#484848"/>
<rect x="71.78" y="702.25" width="7.04" height="7.05" fill="#323232"/>
<rect x="78.22" y="702.25" width="7.04" height="7.05" fill="#484848"/>
<rect x="84.67" y="702.25" width="7.04" height="7.05" fill="#323232"/>
<rect x="71.78" y="708.7" width="7.04" height="7.05" fill="#323232"/>
<rect x="78.22" y="708.7" width="7.04" height="7.05" fill="#484848"/>
<rect x="84.67" y="708.7" width="7.04" height="7.05" fill="#1c1c1c"/>
<rect x="71.78" y="715.15" width="7.04" height="7.05" fill="#484848"/>
<rect x="78.22" y="715.15" width="7.04" height="7.05" fill="#484848"/>
<rect x="65.33" y="721.6" width="7.04" height="7.05" fill="#1c1c1c"/>
<rect x="71.78" y="721.6" width="7.04" height="7.05" fill="#484848"/>
<rect x="78.22" y="721.6" width="7.04" height="7.05" fill="#323232"/>
<rect x="58.89" y="728.05" width="7.04" height="7.05" fill="#323232"/>
<rect x="65.33" y="728.05" width="7.04" height="7.05" fill="#323232"/>
<rect x="71.78" y="728.05" width="7.04" height="7.05" fill="#323232"/>
<rect x="78.22" y="728.05" width="7.04" height="7.05" fill="#1c1c1c"/>
<rect x="58.89" y="734.5" width="7.04" height="7.05" fill="#1c1c1c"/>
<rect x="65.33" y="734.5" width="7.04" height="7.05" fill="#1c1c1c"/>
<rect x="71.78" y="734.5" width="7.04" height="7.05" fill="#323232"/>
<rect x="78.22" y="734.5" width="7.04" height="7.05" fill="#1c1c1c"/>
<rect x="65.33" y="740.95" width="7.04" height="7.05" fill="#323232"/>
<rect x="71.78" y="740.95" width="7.04" height="7.05" fill="#323232"/>
<rect x="78.22" y="740.95" width="7.04" height="7.05" fill="#1c1c1c"/>
<rect x="46" y="747.4" width="7.04" height="7.05" fill="#484848"/>
<rect x="52.44" y="747.4" width="7.04" height="7.05" fill="#323232"/>
<rect x="65.33" y="747.4" width="7.04" height="7.05" fill="#323232"/>
<rect x="71.78" y="747.4" width="7.04" height="7.05" fill="#484848"/>
<rect x="78.22" y="747.4" width="7.04" height="7.05" fill="#323232"/>
<rect x="46" y="753.85" width="7.04" height="7.05" fill="#5e5e5e"/>
<rect x="52.44" y="753.85" width="7.04" height="7.05" fill="#5e5e5e"/>
<rect x="58.89" y="753.85" width="7.04" height="7.05" fill="#323232"/>
<rect x="65.33" y="753.85" width="7.04" height="7.05" fill="#5e5e5e"/>
<rect x="71.78" y="753.85" width="7.04" height="7.05" fill="#747474"/>
<rect x="78.22" y="753.85" width="7.04" height="7.05" fill="#5e5e5e"/>
<rect x="84.67" y="753.85" width="7.04" height="7.05" fill="#323232"/>
<rect x="91.11" y="753.85" width="7.04" height="7.05" fill="#1c1c1c"/>
</g>
<path d="M84 679.5C83.6 683.12 82.52 695.1 81.6 701.2C80.68 707.3 79.85 711.75 78.5 716.1C77.15 720.45 74.5 723.78 73.5 727.3C72.5 730.82 72.5 733.9 72.5 737.2C72.5 740.5 73.13 744.1 73.5 747.1C73.87 750.1 74.5 753.85 74.7 755.2" stroke="#c81414" stroke-width="0.8" fill="none"/>
<rect x="48.8" y="672" width="29.6" height="3.1" fill="#fff"/>
<text x="103" y="777.2" font-size="17" text-anchor="middle" fill="#262626">4</text>
<text x="166.5" y="777.2" font-size="17" text-anchor="middle" fill="#262626">6</text>
<text x="229.7" y="777.2" font-size="17" text-anchor="middle" fill="#262626">8</text>
<text x="40.6" y="458" font-size="17" text-anchor="end" fill="#262626">14</text>
<text x="40.6" y="506.27" font-size="17" text-anchor="end" fill="#262626">12</text>
<text x="40.6" y="554.54" font-size="17" text-anchor="end" fill="#262626">10</text>
<text x="40.6" y="602.81" font-size="17" text-anchor="end" fill="#262626">8</text>
<text x="40.6" y="651.08" font-size="17" text-anchor="end" fill="#262626">6</text>
<text x="40.6" y="699.35" font-size="17" text-anchor="end" fill="#262626">4</text>
<text x="40.6" y="747.62" font-size="17" text-anchor="end" fill="#262626">2</text>
<text x="148.5" y="800.5" font-size="17.5" text-anchor="middle" fill="#262626">x (pixels)</text>
<text transform="translate(18.3 595.7) rotate(-90)" font-size="17.5" text-anchor="middle" fill="#262626">y (pixels)</text>
<linearGradient id="gc" x1="0" y1="1" x2="0" y2="0">
<stop offset="0" stop-color="#352a87"/>
<stop offset="0.02" stop-color="#363093"/>
<stop offset="0.03" stop-color="#3637a0"/>
<stop offset="0.05" stop-color="#353dad"/>
<stop offset="0.06" stop-color="#3243ba"/>
<stop offset="0.08" stop-color="#2c4ac7"/>
<stop offset="0.1" stop-color="#2053d4"/>
<stop offset="0.11" stop-color="#0f5cdd"/>
<stop offset="0.13" stop-color="#0363e1"/>
<stop offset="0.14" stop-color="#0268e1"/>
<stop offset="0.16" stop-color="#046de0"/>
<stop offset="0.17" stop-color="#0871de"/>
<stop offset="0.19" stop-color="#0d75dc"/>
<stop offset="0.21" stop-color="#1079da"/>
<stop offset="0.22" stop-color="#127dd8"/>
<stop offset="0.24" stop-color="#1481d6"/>
<stop offset="0.25" stop-color="#1485d4"/>
<stop offset="0.27" stop-color="#1389d3"/>
<stop offset="0.29" stop-color="#108ed2"/>
<stop offset="0.3" stop-color="#0c93d2"/>
<stop offset="0.32" stop-color="#0998d1"/>
<stop offset="0.33" stop-color="#079ccf"/>
<stop offset="0.35" stop-color="#06a0cd"/>
<stop offset="0.37" stop-color="#06a4ca"/>
<stop offset="0.38" stop-color="#06a7c6"/>
<stop offset="0.4" stop-color="#07a9c2"/>
<stop offset="0.41" stop-color="#0aacbe"/>
<stop offset="0.43" stop-color="#0faeb9"/>
<stop offset="0.44" stop-color="#15b1b4"/>
<stop offset="0.46" stop-color="#1db3af"/>
<stop offset="0.48" stop-color="#25b5a9"/>
<stop offset="0.49" stop-color="#2eb7a4"/>
<stop offset="0.51" stop-color="#38b99e"/>
<stop offset="0.52" stop-color="#42bb98"/>
<stop offset="0.54" stop-color="#4dbc92"/>
<stop offset="0.56" stop-color="#59bd8c"/>
<stop offset="0.57" stop-color="#65be86"/>
<stop offset="0.59" stop-color="#71bf80"/>
<stop offset="0.6" stop-color="#7cbf7b"/>
<stop offset="0.62" stop-color="#87bf77"/>
<stop offset="0.63" stop-color="#92bf73"/>
<stop offset="0.65" stop-color="#9cbf6f"/>
<stop offset="0.67" stop-color="#a5be6b"/>
<stop offset="0.68" stop-color="#aebe67"/>
<stop offset="0.7" stop-color="#b7bd64"/>
<stop offset="0.71" stop-color="#c0bc60"/>
<stop offset="0.73" stop-color="#c8bc5d"/>
<stop offset="0.75" stop-color="#d1bb59"/>
<stop offset="0.76" stop-color="#d9ba56"/>
<stop offset="0.78" stop-color="#e1b952"/>
<stop offset="0.79" stop-color="#e9b94e"/>
<stop offset="0.81" stop-color="#f1b94a"/>
<stop offset="0.83" stop-color="#f8bb44"/>
<stop offset="0.84" stop-color="#fdbe3d"/>
<stop offset="0.86" stop-color="#ffc337"/>
<stop offset="0.87" stop-color="#fec832"/>
<stop offset="0.89" stop-color="#fcce2e"/>
<stop offset="0.9" stop-color="#fad32a"/>
<stop offset="0.92" stop-color="#f7d826"/>
<stop offset="0.94" stop-color="#f5de21"/>
<stop offset="0.95" stop-color="#f5e41d"/>
<stop offset="0.97" stop-color="#f5eb18"/>
<stop offset="0.98" stop-color="#f6f313"/>
<stop offset="1" stop-color="#f9fb0e"/>
</linearGradient>
<rect x="265.3" y="438.3" width="14.7" height="326.1" fill="url(#gc)" stroke="#333" stroke-width="0.6"/>
<text x="284" y="473.2" font-size="17" text-anchor="start" fill="#262626">90</text>
<path d="M280 467.6h-2.2M265.3 467.6h2.2" stroke="#333" stroke-width="0.6"/>
<text x="284" y="506.4" font-size="17" text-anchor="start" fill="#262626">80</text>
<path d="M280 500.8h-2.2M265.3 500.8h2.2" stroke="#333" stroke-width="0.6"/>
<text x="284" y="539.6" font-size="17" text-anchor="start" fill="#262626">70</text>
<path d="M280 534h-2.2M265.3 534h2.2" stroke="#333" stroke-width="0.6"/>
<text x="284" y="572.8" font-size="17" text-anchor="start" fill="#262626">60</text>
<path d="M280 567.2h-2.2M265.3 567.2h2.2" stroke="#333" stroke-width="0.6"/>
<text x="284" y="606" font-size="17" text-anchor="start" fill="#262626">50</text>
<path d="M280 600.4h-2.2M265.3 600.4h2.2" stroke="#333" stroke-width="0.6"/>
<text x="284" y="639.2" font-size="17" text-anchor="start" fill="#262626">40</text>
<path d="M280 633.6h-2.2M265.3 633.6h2.2" stroke="#333" stroke-width="0.6"/>
<text x="284" y="672.4" font-size="17" text-anchor="start" fill="#262626">30</text>
<path d="M280 666.8h-2.2M265.3 666.8h2.2" stroke="#333" stroke-width="0.6"/>
<text x="284" y="705.6" font-size="17" text-anchor="start" fill="#262626">20</text>
<path d="M280 700h-2.2M265.3 700h2.2" stroke="#333" stroke-width="0.6"/>
<text x="284" y="738.8" font-size="17" text-anchor="start" fill="#262626">10</text>
<path d="M280 733.2h-2.2M265.3 733.2h2.2" stroke="#333" stroke-width="0.6"/>
<text x="284" y="772" font-size="17" text-anchor="start" fill="#262626">0</text>
<text x="256" y="426.3" font-size="17.3" text-anchor="start" fill="#262626">Freq.</text>
<text x="0" y="403.4" font-size="41" text-anchor="start" font-weight="bold" fill="#111">c</text>
<rect x="408.8" y="431.7" width="250.5" height="322.8" fill="#cccccc"/>
<path d="M408.8 431.7V754.5H659.3" stroke="#555" stroke-width="0.9" fill="none"/>
<text x="478.6" y="771.2" font-size="17" text-anchor="middle" fill="#262626">4</text>
<text x="557.6" y="771.2" font-size="17" text-anchor="middle" fill="#262626">6</text>
<text x="637" y="771.2" font-size="17" text-anchor="middle" fill="#262626">8</text>
<text x="406.3" y="452.7" font-size="17" text-anchor="end" fill="#262626">14</text>
<text x="406.3" y="500.55" font-size="17" text-anchor="end" fill="#262626">12</text>
<text x="406.3" y="548.4" font-size="17" text-anchor="end" fill="#262626">10</text>
<text x="406.3" y="596.25" font-size="17" text-anchor="end" fill="#262626">8</text>
<text x="406.3" y="644.1" font-size="17" text-anchor="end" fill="#262626">6</text>
<text x="406.3" y="691.95" font-size="17" text-anchor="end" fill="#262626">4</text>
<text x="406.3" y="739.8" font-size="17" text-anchor="end" fill="#262626">2</text>
<path d="M440 754.5v-2.8M479.2 754.5v-2.8M518.4 754.5v-2.8M557.6 754.5v-2.8M596.8 754.5v-2.8M636 754.5v-2.8M408.8 445.3h2.8M408.8 493.15h2.8M408.8 541h2.8M408.8 588.85h2.8M408.8 636.7h2.8M408.8 684.55h2.8M408.8 732.4h2.8" stroke="#666" stroke-width="0.7"/>
<text x="542.5" y="794" font-size="17.5" text-anchor="middle" fill="#262626">x (pixels)</text>
<text transform="translate(380.5 607.4) rotate(-90)" font-size="17.5" text-anchor="middle" fill="#262626">y (pixels)</text>
<linearGradient id="gd" x1="0" y1="1" x2="0" y2="0">
<stop offset="0" stop-color="#000080"/>
<stop offset="0.02" stop-color="#000090"/>
<stop offset="0.03" stop-color="#0000a0"/>
<stop offset="0.05" stop-color="#0000b0"/>
<stop offset="0.06" stop-color="#0000c0"/>
<stop offset="0.08" stop-color="#0000d0"/>
<stop offset="0.1" stop-color="#0000e1"/>
<stop offset="0.11" stop-color="#0000f1"/>
<stop offset="0.13" stop-color="#0002ff"/>
<stop offset="0.14" stop-color="#0012ff"/>
<stop offset="0.16" stop-color="#0022ff"/>
<stop offset="0.17" stop-color="#0033ff"/>
<stop offset="0.19" stop-color="#0043ff"/>
<stop offset="0.21" stop-color="#0053ff"/>
<stop offset="0.22" stop-color="#0063ff"/>
<stop offset="0.24" stop-color="#0073ff"/>
<stop offset="0.25" stop-color="#0084ff"/>
<stop offset="0.27" stop-color="#0094ff"/>
<stop offset="0.29" stop-color="#00a4ff"/>
<stop offset="0.3" stop-color="#00b4ff"/>
<stop offset="0.32" stop-color="#00c4ff"/>
<stop offset="0.33" stop-color="#00d4ff"/>
<stop offset="0.35" stop-color="#00e5ff"/>
<stop offset="0.37" stop-color="#00f5ff"/>
<stop offset="0.38" stop-color="#06fff9"/>
<stop offset="0.4" stop-color="#16ffe9"/>
<stop offset="0.41" stop-color="#26ffd9"/>
<stop offset="0.43" stop-color="#37ffc8"/>
<stop offset="0.44" stop-color="#47ffb8"/>
<stop offset="0.46" stop-color="#57ffa8"/>
<stop offset="0.48" stop-color="#67ff98"/>
<stop offset="0.49" stop-color="#77ff88"/>
<stop offset="0.51" stop-color="#88ff77"/>
<stop offset="0.52" stop-color="#98ff67"/>
<stop offset="0.54" stop-color="#a8ff57"/>
<stop offset="0.56" stop-color="#b8ff47"/>
<stop offset="0.57" stop-color="#c8ff37"/>
<stop offset="0.59" stop-color="#d9ff26"/>
<stop offset="0.6" stop-color="#e9ff16"/>
<stop offset="0.62" stop-color="#f9ff06"/>
<stop offset="0.63" stop-color="#fff500"/>
<stop offset="0.65" stop-color="#ffe500"/>
<stop offset="0.67" stop-color="#ffd500"/>
<stop offset="0.68" stop-color="#ffc400"/>
<stop offset="0.7" stop-color="#ffb400"/>
<stop offset="0.71" stop-color="#ffa400"/>
<stop offset="0.73" stop-color="#ff9400"/>
<stop offset="0.75" stop-color="#ff8400"/>
<stop offset="0.76" stop-color="#ff7300"/>
<stop offset="0.78" stop-color="#ff6300"/>
<stop offset="0.79" stop-color="#ff5300"/>
<stop offset="0.81" stop-color="#ff4300"/>
<stop offset="0.83" stop-color="#ff3300"/>
<stop offset="0.84" stop-color="#ff2200"/>
<stop offset="0.86" stop-color="#ff1200"/>
<stop offset="0.87" stop-color="#ff0200"/>
<stop offset="0.89" stop-color="#f10000"/>
<stop offset="0.9" stop-color="#e10000"/>
<stop offset="0.92" stop-color="#d00000"/>
<stop offset="0.94" stop-color="#c00000"/>
<stop offset="0.95" stop-color="#b00000"/>
<stop offset="0.97" stop-color="#a00000"/>
<stop offset="0.98" stop-color="#900000"/>
<stop offset="1" stop-color="#800000"/>
</linearGradient>
<rect x="666.4" y="431.6" width="11.4" height="322.9" fill="url(#gd)" stroke="#333" stroke-width="0.6"/>
<text x="683.5" y="447.4" font-size="17" text-anchor="start" fill="#262626">0.75</text>
<path d="M677.8 441.5h-2.2M666.4 441.5h2.2" stroke="#222" stroke-width="0.6"/>
<text x="683.5" y="478.14" font-size="17" text-anchor="start" fill="#262626">0.7</text>
<path d="M677.8 472.24h-2.2M666.4 472.24h2.2" stroke="#222" stroke-width="0.6"/>
<text x="683.5" y="508.88" font-size="17" text-anchor="start" fill="#262626">0.65</text>
<path d="M677.8 502.98h-2.2M666.4 502.98h2.2" stroke="#222" stroke-width="0.6"/>
<text x="683.5" y="539.62" font-size="17" text-anchor="start" fill="#262626">0.6</text>
<path d="M677.8 533.72h-2.2M666.4 533.72h2.2" stroke="#222" stroke-width="0.6"/>
<text x="683.5" y="570.36" font-size="17" text-anchor="start" fill="#262626">0.55</text>
<path d="M677.8 564.46h-2.2M666.4 564.46h2.2" stroke="#222" stroke-width="0.6"/>
<text x="683.5" y="601.1" font-size="17" text-anchor="start" fill="#262626">0.5</text>
<path d="M677.8 595.2h-2.2M666.4 595.2h2.2" stroke="#222" stroke-width="0.6"/>
<text x="683.5" y="631.84" font-size="17" text-anchor="start" fill="#262626">0.45</text>
<path d="M677.8 625.94h-2.2M666.4 625.94h2.2" stroke="#222" stroke-width="0.6"/>
<text x="683.5" y="662.58" font-size="17" text-anchor="start" fill="#262626">0.4</text>
<path d="M677.8 656.68h-2.2M666.4 656.68h2.2" stroke="#222" stroke-width="0.6"/>
<text x="683.5" y="693.32" font-size="17" text-anchor="start" fill="#262626">0.35</text>
<path d="M677.8 687.42h-2.2M666.4 687.42h2.2" stroke="#222" stroke-width="0.6"/>
<text x="683.5" y="724.06" font-size="17" text-anchor="start" fill="#262626">0.3</text>
<path d="M677.8 718.16h-2.2M666.4 718.16h2.2" stroke="#222" stroke-width="0.6"/>
<text x="683.5" y="754.8" font-size="17" text-anchor="start" fill="#262626">0.25</text>
<path d="M677.8 748.9h-2.2M666.4 748.9h2.2" stroke="#222" stroke-width="0.6"/>
<text x="633.6" y="422.9" font-size="17.3" fill="#262626">Var (pix<tspan font-size="10" dy="-7">2</tspan><tspan dy="7">)</tspan></text>
<text x="393.5" y="404.5" font-size="41" text-anchor="start" font-weight="bold" fill="#111">d</text>
<linearGradient id="ld0" gradientUnits="userSpaceOnUse" x1="581.4" y1="455.7" x2="572.7" y2="478.7"><stop offset="0" stop-color="#800000"/><stop offset="1" stop-color="#ff9e00"/></linearGradient>
<path d="M581.4 455.7L572.71 478.71" stroke="url(#ld0)" stroke-width="1.4"/>
<linearGradient id="ld1" gradientUnits="userSpaceOnUse" x1="572.7" y1="478.7" x2="563.9" y2="500.8"><stop offset="0" stop-color="#ff9e00"/><stop offset="1" stop-color="#e5ff1a"/></linearGradient>
<path d="M572.7 478.7L563.91 500.81" stroke="url(#ld1)" stroke-width="1.4"/>
<linearGradient id="ld2" gradientUnits="userSpaceOnUse" x1="563.9" y1="500.8" x2="555.5" y2="523.7"><stop offset="0" stop-color="#e5ff1a"/><stop offset="1" stop-color="#75ff8a"/></linearGradient>
<path d="M563.9 500.8L555.51 523.71" stroke="url(#ld2)" stroke-width="1.4"/>
<linearGradient id="ld3" gradientUnits="userSpaceOnUse" x1="555.5" y1="523.7" x2="547.8" y2="547.1"><stop offset="0" stop-color="#75ff8a"/><stop offset="1" stop-color="#1affe5"/></linearGradient>
<path d="M555.5 523.7L547.81 547.11" stroke="url(#ld3)" stroke-width="1.4"/>
<linearGradient id="ld4" gradientUnits="userSpaceOnUse" x1="547.8" y1="547.1" x2="541.2" y2="570.4"><stop offset="0" stop-color="#1affe5"/><stop offset="1" stop-color="#00f0ff"/></linearGradient>
<path d="M547.8 547.1L541.21 570.41" stroke="url(#ld4)" stroke-width="1.4"/>
<linearGradient id="ld5" gradientUnits="userSpaceOnUse" x1="541.2" y1="570.4" x2="536.1" y2="593.7"><stop offset="0" stop-color="#00f0ff"/><stop offset="1" stop-color="#00e5ff"/></linearGradient>
<path d="M541.2 570.4L536.11 593.71" stroke="url(#ld5)" stroke-width="1.4"/>
<linearGradient id="ld6" gradientUnits="userSpaceOnUse" x1="536.1" y1="593.7" x2="533.6" y2="617.6"><stop offset="0" stop-color="#00e5ff"/><stop offset="1" stop-color="#00d1ff"/></linearGradient>
<path d="M536.1 593.7L533.61 617.61" stroke="url(#ld6)" stroke-width="1.4"/>
<linearGradient id="ld7" gradientUnits="userSpaceOnUse" x1="533.6" y1="617.6" x2="531.9" y2="640.6"><stop offset="0" stop-color="#00d1ff"/><stop offset="1" stop-color="#00b2ff"/></linearGradient>
<path d="M533.6 617.6L531.91 640.61" stroke="url(#ld7)" stroke-width="1.4"/>
<linearGradient id="ld8" gradientUnits="userSpaceOnUse" x1="531.9" y1="640.6" x2="530.9" y2="664"><stop offset="0" stop-color="#00b2ff"/><stop offset="1" stop-color="#0075ff"/></linearGradient>
<path d="M531.9 640.6L530.91 664.01" stroke="url(#ld8)" stroke-width="1.4"/>
<linearGradient id="ld9" gradientUnits="userSpaceOnUse" x1="530.9" y1="664" x2="530.9" y2="687.8"><stop offset="0" stop-color="#0075ff"/><stop offset="1" stop-color="#0005ff"/></linearGradient>
<path d="M530.9 664L530.91 687.81" stroke="url(#ld9)" stroke-width="1.4"/>
<linearGradient id="ld10" gradientUnits="userSpaceOnUse" x1="530.9" y1="687.8" x2="532.6" y2="711.1"><stop offset="0" stop-color="#0005ff"/><stop offset="1" stop-color="#00009e"/></linearGradient>
<path d="M530.9 687.8L532.61 711.11" stroke="url(#ld10)" stroke-width="1.4"/>
<linearGradient id="ld11" gradientUnits="userSpaceOnUse" x1="532.6" y1="711.1" x2="535.3" y2="734.7"><stop offset="0" stop-color="#00009e"/><stop offset="1" stop-color="#00008a"/></linearGradient>
<path d="M532.6 711.1L535.31 734.71" stroke="url(#ld11)" stroke-width="1.4"/>
<circle cx="581.4" cy="455.7" r="3" fill="#800000"/>
<circle cx="572.7" cy="478.7" r="3" fill="#ff9e00"/>
<circle cx="563.9" cy="500.8" r="3" fill="#e5ff1a"/>
<circle cx="555.5" cy="523.7" r="3" fill="#75ff8a"/>
<circle cx="547.8" cy="547.1" r="3" fill="#1affe5"/>
<circle cx="541.2" cy="570.4" r="3" fill="#00f0ff"/>
<circle cx="536.1" cy="593.7" r="3" fill="#00e5ff"/>
<circle cx="533.6" cy="617.6" r="3" fill="#00d1ff"/>
<circle cx="531.9" cy="640.6" r="3" fill="#00b2ff"/>
<circle cx="530.9" cy="664" r="3" fill="#0075ff"/>
<circle cx="530.9" cy="687.8" r="3" fill="#0005ff"/>
<circle cx="532.6" cy="711.1" r="3" fill="#00009e"/>
<circle cx="535.3" cy="734.7" r="3" fill="#00008a"/>
<path d="M541.2 570.4L552.4 570.75" stroke="#111" stroke-width="0.9"/>
<path d="M557.4 570.9L552.33 572.94L552.47 568.55z" fill="#111"/>
<path d="M536.1 593.7L548.9 594.06" stroke="#111" stroke-width="0.9"/>
<path d="M553.9 594.2L548.84 596.26L548.96 591.86z" fill="#111"/>
<path d="M532.6 711.1L518.99 710.37" stroke="#111" stroke-width="0.9"/>
<path d="M514 710.1L519.11 708.17L518.87 712.57z" fill="#111"/>
<path d="M535.3 734.7L503.39 732.54" stroke="#111" stroke-width="0.9"/>
<path d="M498.4 732.2L503.54 730.34L503.24 734.73z" fill="#111"/>
</svg>
</body></html>
